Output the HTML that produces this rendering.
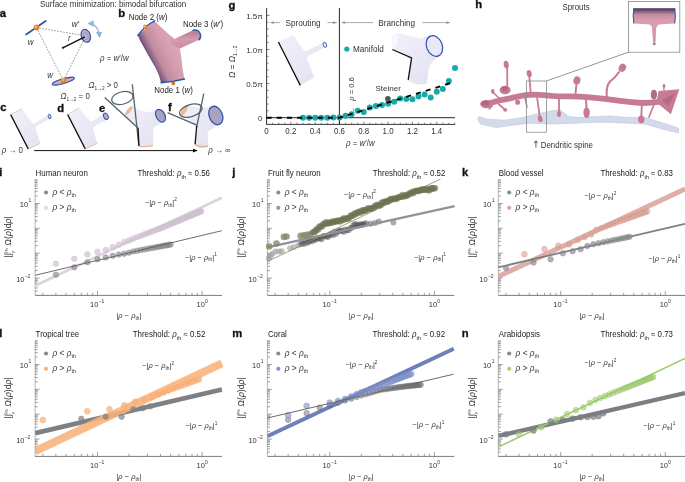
<!DOCTYPE html>
<html><head><meta charset="utf-8"><style>
html,body{margin:0;padding:0;background:#fff;}
body{width:685px;height:482px;overflow:hidden;font-family:"Liberation Sans", sans-serif;}
svg{display:block;filter:blur(0.3px);}
</style></head><body>
<svg width="685" height="482" viewBox="0 0 685 482" font-family="'Liberation Sans', sans-serif">
<rect width="100%" height="100%" fill="#fff"/>
<defs>
<linearGradient id="pinkTube" x1="143.2" y1="47.4" x2="168.9" y2="34.3" gradientUnits="userSpaceOnUse">
 <stop offset="0" stop-color="#5e4472"/><stop offset="0.1" stop-color="#8a6286"/><stop offset="0.3" stop-color="#c18a9f"/><stop offset="0.65" stop-color="#d49cad"/><stop offset="1" stop-color="#daa5b4"/>
</linearGradient>
<linearGradient id="pinkBranch" x1="0" y1="0" x2="0" y2="1">
 <stop offset="0" stop-color="#b07a98"/><stop offset="0.5" stop-color="#d49bac"/><stop offset="1" stop-color="#c98ea2"/>
</linearGradient>
<linearGradient id="insetTube" x1="0" y1="8.2" x2="0" y2="24" gradientUnits="userSpaceOnUse">
 <stop offset="0" stop-color="#40304c"/><stop offset="0.14" stop-color="#6e5070"/><stop offset="0.4" stop-color="#c48ba0"/><stop offset="0.75" stop-color="#d89dae"/><stop offset="1" stop-color="#d99fae"/>
</linearGradient>
<linearGradient id="lav" x1="0" y1="0" x2="1" y2="1">
 <stop offset="0" stop-color="#f1f0f9"/><stop offset="1" stop-color="#e2e0f1"/>
</linearGradient>
<radialGradient id="orangeBall" cx="0.4" cy="0.4" r="0.6">
 <stop offset="0" stop-color="#f6c060"/><stop offset="1" stop-color="#d96a20"/>
</radialGradient>
<marker id="ah" viewBox="0 0 10 10" refX="9" refY="5" markerWidth="5" markerHeight="5" orient="auto-start-reverse"><path d="M0,1 L10,5 L0,9 z" fill="#000"/></marker>
<marker id="ahg" viewBox="0 0 10 10" refX="9" refY="5" markerWidth="5" markerHeight="5" orient="auto-start-reverse"><path d="M0,1.5 L10,5 L0,8.5 z" fill="#8a979d"/></marker>
<marker id="ahb" viewBox="0 0 10 10" refX="8" refY="5" markerWidth="5" markerHeight="5" orient="auto-start-reverse"><path d="M0,0 L10,5 L0,10 z" fill="#8fb6e0"/></marker>
</defs>
<text transform="translate(-0.30,17.20) scale(1.1,1)" font-size="10.20" text-anchor="start" font-weight="bold" font-style="normal" fill="#111" stroke="#111" stroke-width="0.3">a</text>
<text transform="translate(39.90,6.60) scale(1.0,1)" font-size="8.32" text-anchor="start" font-weight="normal" font-style="normal" fill="#333" textLength="146.4" lengthAdjust="spacingAndGlyphs">Surface minimization: bimodal bifurcation</text>
<line x1="36.40" y1="27.60" x2="85.80" y2="35.80" stroke="#6e6e6e" stroke-width="0.7" stroke-dasharray="1.7 1.3"/>
<line x1="36.40" y1="27.60" x2="63.50" y2="80.60" stroke="#6e6e6e" stroke-width="0.7" stroke-dasharray="1.7 1.3"/>
<line x1="85.80" y1="35.80" x2="63.50" y2="80.60" stroke="#6e6e6e" stroke-width="0.7" stroke-dasharray="1.7 1.3"/>
<line x1="26.10" y1="34.50" x2="45.70" y2="20.90" stroke="#2f57a8" stroke-width="1.8" stroke-linecap="round"/>
<circle cx="36.40" cy="27.40" r="2.8" fill="url(#orangeBall)" />
<ellipse cx="85.8" cy="35.8" rx="4.5" ry="6.6" transform="rotate(-18 85.8 35.8)" fill="#c9a9c8" stroke="#2f57a8" stroke-width="1.2"/>
<ellipse cx="85.8" cy="36.0" rx="2.2" ry="3.6" transform="rotate(-18 85.8 36)" fill="#a9b9e0" stroke="#7a6a9a" stroke-width="0.4"/>
<ellipse cx="63.3" cy="81.2" rx="11.5" ry="2.4" transform="rotate(-16 63.3 81.2)" fill="#d7a8b8" stroke="#2f57a8" stroke-width="1.2"/>
<circle cx="63.50" cy="80.40" r="2.7" fill="url(#orangeBall)" />
<line x1="62.80" y1="47.80" x2="84.80" y2="36.80" stroke="#111" stroke-width="1.4" />
<circle cx="62.80" cy="47.80" r="1.0" fill="#111" />
<path d="M88.6,23.6 Q98,23.5 99.6,37" fill="none" stroke="#8fb6e0" stroke-width="1.3" marker-start="url(#ahb)" marker-end="url(#ahb)"/>
<text transform="translate(71.80,27.00) scale(0.95,1)" font-size="8.32" text-anchor="start" font-weight="normal" font-style="italic" fill="#333" >w′</text>
<text transform="translate(27.80,45.00) scale(0.95,1)" font-size="8.32" text-anchor="start" font-weight="normal" font-style="italic" fill="#333" >w</text>
<text transform="translate(68.00,41.20) scale(0.95,1)" font-size="8.32" text-anchor="start" font-weight="normal" font-style="italic" fill="#333" >r</text>
<text transform="translate(47.20,78.00) scale(0.95,1)" font-size="8.32" text-anchor="start" font-weight="normal" font-style="italic" fill="#333" >w</text>
<text transform="translate(100.00,61.00) scale(0.95,1)" font-size="8.32" text-anchor="start" font-weight="normal" font-style="normal" fill="#333" ><tspan font-style="italic">ρ</tspan> = <tspan font-style="italic">w</tspan>′/<tspan font-style="italic">w</tspan></text>
<text transform="translate(88.50,87.60) scale(0.95,1)" font-size="8.32" text-anchor="start" font-weight="normal" font-style="normal" fill="#333" ><tspan font-style="italic">Ω</tspan><tspan font-size="5" dy="2">1→2</tspan><tspan dy="-2"> &gt; 0</tspan></text>
<text transform="translate(60.40,98.80) scale(0.95,1)" font-size="8.32" text-anchor="start" font-weight="normal" font-style="normal" fill="#333" ><tspan font-style="italic">Ω</tspan><tspan font-size="5" dy="2">1→2</tspan><tspan dy="-2"> = 0</tspan></text>
<text transform="translate(118.20,17.20) scale(1.1,1)" font-size="10.20" text-anchor="start" font-weight="bold" font-style="normal" fill="#111" stroke="#111" stroke-width="0.3">b</text>
<text transform="translate(128.70,19.80) scale(0.95,1)" font-size="8.32" text-anchor="start" font-weight="normal" font-style="normal" fill="#222" >Node 2 (<tspan font-style="italic">w</tspan>)</text>
<text transform="translate(183.00,26.60) scale(0.95,1)" font-size="8.32" text-anchor="start" font-weight="normal" font-style="normal" fill="#222" >Node 3 (<tspan font-style="italic">w</tspan>′)</text>
<text transform="translate(154.30,92.60) scale(0.95,1)" font-size="8.32" text-anchor="start" font-weight="normal" font-style="normal" fill="#222" >Node 1 (<tspan font-style="italic">w</tspan>)</text>
<path d="M137.9,35.4 Q140,41 143.7,47 Q147.5,54 151,60.1 Q154,65 156.8,70.3 Q159.5,76 161.1,82.6 L184.4,79 Q182,68 181.5,58.7 Q180.5,53 180,48.5 L174.2,39.1 Q164,30 154.6,20.9 Z" fill="url(#pinkTube)"/>
<path d="M170,36 L174.2,39.1 L193.1,30.3 Q197.5,29.8 200.3,34.5 Q200.5,38.5 198.9,39.8 L180,48.5 Q176,47 172,44 Z" fill="url(#pinkBranch)"/>
<path d="M137.9,35.4 Q145,26 154.6,20.9" fill="none" stroke="#2f57a8" stroke-width="1.6" stroke-linecap="round"/>
<path d="M161.1,82.6 Q173,82 184.4,79" fill="none" stroke="#2f57a8" stroke-width="1.6" stroke-linecap="round"/>
<path d="M193.1,30.3 Q198.5,29 200.5,34.5 Q201,38.5 198.9,39.8" fill="none" stroke="#2f57a8" stroke-width="1.4" stroke-linecap="round"/>
<circle cx="145.20" cy="26.80" r="2.2" fill="url(#orangeBall)" />
<circle cx="173.30" cy="83.40" r="1.8" fill="#d0702a" />
<text transform="translate(0.20,111.30) scale(1.1,1)" font-size="10.20" text-anchor="start" font-weight="bold" font-style="normal" fill="#111" stroke="#111" stroke-width="0.3">c</text>
<path d="M10.6,114.5 L21.9,108.8 Q29,119 32.5,123.2 Q34,123.6 35.6,122.8 L48.6,114.8 L50.6,118.3 L37.2,125.4 Q35.3,126.6 35.6,128.6 Q38,137 40.2,143.4 L28.3,149 Z" fill="url(#lav)"/>
<ellipse cx="49.6" cy="116.5" rx="1.3" ry="2.0" transform="rotate(-25 49.6 116.5)" fill="#e4e3f3" stroke="#2f57a8" stroke-width="0.9"/>
<line x1="10.60" y1="114.50" x2="28.30" y2="149.00" stroke="#111" stroke-width="1.4" />
<line x1="11.10" y1="114.20" x2="21.90" y2="108.80" stroke="#f0c2a0" stroke-width="0.8" />
<line x1="28.70" y1="148.80" x2="40.20" y2="143.40" stroke="#efc09e" stroke-width="0.9" />
<text transform="translate(57.30,111.90) scale(1.1,1)" font-size="10.20" text-anchor="start" font-weight="bold" font-style="normal" fill="#111" stroke="#111" stroke-width="0.3">d</text>
<path d="M67.6,114.5 L78.9,108 Q86,117 90.2,121.2 Q92,121.8 93.6,120.6 L103.4,113.6 L108.2,119.2 L95.6,125.4 Q93.2,126.6 93.3,129 Q95,137 97.5,143.4 L85.3,149 Z" fill="url(#lav)"/>
<ellipse cx="105.9" cy="116.3" rx="2.2" ry="3.3" transform="rotate(-25 105.9 116.3)" fill="#b2afcf" stroke="#2f57a8" stroke-width="1.0"/>
<line x1="67.60" y1="114.50" x2="85.30" y2="149.00" stroke="#111" stroke-width="1.4" />
<line x1="68.10" y1="114.20" x2="78.90" y2="108.00" stroke="#f0c2a0" stroke-width="0.8" />
<line x1="85.70" y1="148.80" x2="97.50" y2="143.40" stroke="#efc09e" stroke-width="0.9" />
<text transform="translate(99.10,111.90) scale(1.1,1)" font-size="10.20" text-anchor="start" font-weight="bold" font-style="normal" fill="#111" stroke="#111" stroke-width="0.3">e</text>
<path d="M132.3,105.7 Q135.5,108 138.4,109.6 Q143,111.8 146.8,112.2 Q152,111.5 156.8,109.2 L163.9,121.6 Q158,125 153.4,127.6 L153,145.6 Q146,147 139.2,146.3 L138.4,128.7 Q131,121.5 125.4,115.7 Z" fill="url(#lav)"/>
<ellipse cx="128.8" cy="110.7" rx="1.9" ry="5.6" transform="rotate(38 128.8 110.7)" fill="#e8b68e" opacity="0.9"/>
<ellipse cx="160.5" cy="115.7" rx="4.4" ry="6.8" transform="rotate(-28 160.5 115.7)" fill="#a9a3c2" stroke="#2f57a8" stroke-width="1.2"/>
<path d="M139.2,146.3 Q146,147.3 153,145.6" stroke="#e6b896" stroke-width="1.3" fill="none"/>
<line x1="104.70" y1="97.50" x2="138.00" y2="127.90" stroke="#53646b" stroke-width="1.3" />
<line x1="132.30" y1="84.20" x2="138.90" y2="145.90" stroke="#53646b" stroke-width="1.3" />
<line x1="138.00" y1="127.90" x2="138.90" y2="145.90" stroke="#111" stroke-width="1.3" />
<ellipse cx="122.3" cy="98.0" rx="10.9" ry="6.2" transform="rotate(-14 122.3 98)" fill="none" stroke="#53646b" stroke-width="1.2"/>
<text transform="translate(168.10,111.30) scale(1.1,1)" font-size="10.20" text-anchor="start" font-weight="bold" font-style="normal" fill="#111" stroke="#111" stroke-width="0.3">f</text>
<path d="M187.4,105 Q193,106.8 199.7,107.6 Q206,107.8 211.5,106 L222.2,122.4 Q214,127.5 207.6,131.8 L208.1,145.6 Q201,147.5 195.1,144.5 L196.6,125.7 Q188,120 181,116.2 Z" fill="url(#lav)"/>
<ellipse cx="184.2" cy="110.4" rx="2.2" ry="6.4" transform="rotate(32 184.2 110.4)" fill="#e8b68e" opacity="0.9"/>
<ellipse cx="215.8" cy="115.5" rx="6.6" ry="9.6" transform="rotate(-22 215.8 115.5)" fill="#a9a3c2" stroke="#2f57a8" stroke-width="1.3"/>
<path d="M195.1,144.4 Q201,148.3 208.1,145.8" stroke="#e6b896" stroke-width="1.8" fill="none"/>
<line x1="167.60" y1="112.60" x2="196.80" y2="125.20" stroke="#53646b" stroke-width="1.3" />
<line x1="203.80" y1="93.70" x2="196.60" y2="127.00" stroke="#53646b" stroke-width="1.3" />
<line x1="196.70" y1="126.00" x2="195.10" y2="144.20" stroke="#111" stroke-width="1.3" />
<ellipse cx="190.8" cy="110.6" rx="11.6" ry="6.0" transform="rotate(-17 190.8 110.6)" fill="none" stroke="#53646b" stroke-width="1.2"/>
<line x1="34.20" y1="150.60" x2="197.00" y2="150.60" stroke="#111" stroke-width="1.0" marker-end="url(#ah)"/>
<text transform="translate(1.80,153.40) scale(0.95,1)" font-size="8.32" text-anchor="start" font-weight="normal" font-style="normal" fill="#333" ><tspan font-style="italic">ρ</tspan> → 0</text>
<text transform="translate(208.20,153.40) scale(0.95,1)" font-size="8.32" text-anchor="start" font-weight="normal" font-style="normal" fill="#333" ><tspan font-style="italic">ρ</tspan> → ∞</text>
<text transform="translate(228.50,9.00) scale(1.1,1)" font-size="10.20" text-anchor="start" font-weight="bold" font-style="normal" fill="#111" stroke="#111" stroke-width="0.3">g</text>
<line x1="266.60" y1="7.90" x2="266.60" y2="124.40" stroke="#222" stroke-width="0.9" />
<line x1="266.60" y1="117.70" x2="269.60" y2="117.70" stroke="#333" stroke-width="0.6" />
<line x1="266.60" y1="110.88" x2="268.60" y2="110.88" stroke="#333" stroke-width="0.6" />
<line x1="266.60" y1="104.06" x2="268.60" y2="104.06" stroke="#333" stroke-width="0.6" />
<line x1="266.60" y1="97.24" x2="268.60" y2="97.24" stroke="#333" stroke-width="0.6" />
<line x1="266.60" y1="90.42" x2="268.60" y2="90.42" stroke="#333" stroke-width="0.6" />
<line x1="266.60" y1="83.60" x2="269.60" y2="83.60" stroke="#333" stroke-width="0.6" />
<line x1="266.60" y1="76.78" x2="268.60" y2="76.78" stroke="#333" stroke-width="0.6" />
<line x1="266.60" y1="69.96" x2="268.60" y2="69.96" stroke="#333" stroke-width="0.6" />
<line x1="266.60" y1="63.14" x2="268.60" y2="63.14" stroke="#333" stroke-width="0.6" />
<line x1="266.60" y1="56.32" x2="268.60" y2="56.32" stroke="#333" stroke-width="0.6" />
<line x1="266.60" y1="49.50" x2="269.60" y2="49.50" stroke="#333" stroke-width="0.6" />
<line x1="266.60" y1="42.68" x2="268.60" y2="42.68" stroke="#333" stroke-width="0.6" />
<line x1="266.60" y1="35.86" x2="268.60" y2="35.86" stroke="#333" stroke-width="0.6" />
<line x1="266.60" y1="29.04" x2="268.60" y2="29.04" stroke="#333" stroke-width="0.6" />
<line x1="266.60" y1="22.22" x2="268.60" y2="22.22" stroke="#333" stroke-width="0.6" />
<line x1="266.60" y1="15.40" x2="269.60" y2="15.40" stroke="#333" stroke-width="0.6" />
<line x1="266.60" y1="124.40" x2="455.00" y2="124.40" stroke="#222" stroke-width="0.9" />
<line x1="266.50" y1="124.40" x2="266.50" y2="121.80" stroke="#333" stroke-width="0.6" />
<line x1="272.58" y1="124.40" x2="272.58" y2="122.70" stroke="#333" stroke-width="0.6" />
<line x1="278.66" y1="124.40" x2="278.66" y2="122.70" stroke="#333" stroke-width="0.6" />
<line x1="284.74" y1="124.40" x2="284.74" y2="122.70" stroke="#333" stroke-width="0.6" />
<line x1="290.82" y1="124.40" x2="290.82" y2="121.80" stroke="#333" stroke-width="0.6" />
<line x1="296.90" y1="124.40" x2="296.90" y2="122.70" stroke="#333" stroke-width="0.6" />
<line x1="302.98" y1="124.40" x2="302.98" y2="122.70" stroke="#333" stroke-width="0.6" />
<line x1="309.06" y1="124.40" x2="309.06" y2="122.70" stroke="#333" stroke-width="0.6" />
<line x1="315.14" y1="124.40" x2="315.14" y2="121.80" stroke="#333" stroke-width="0.6" />
<line x1="321.22" y1="124.40" x2="321.22" y2="122.70" stroke="#333" stroke-width="0.6" />
<line x1="327.30" y1="124.40" x2="327.30" y2="122.70" stroke="#333" stroke-width="0.6" />
<line x1="333.38" y1="124.40" x2="333.38" y2="122.70" stroke="#333" stroke-width="0.6" />
<line x1="339.46" y1="124.40" x2="339.46" y2="121.80" stroke="#333" stroke-width="0.6" />
<line x1="345.54" y1="124.40" x2="345.54" y2="122.70" stroke="#333" stroke-width="0.6" />
<line x1="351.62" y1="124.40" x2="351.62" y2="122.70" stroke="#333" stroke-width="0.6" />
<line x1="357.70" y1="124.40" x2="357.70" y2="122.70" stroke="#333" stroke-width="0.6" />
<line x1="363.78" y1="124.40" x2="363.78" y2="121.80" stroke="#333" stroke-width="0.6" />
<line x1="369.86" y1="124.40" x2="369.86" y2="122.70" stroke="#333" stroke-width="0.6" />
<line x1="375.94" y1="124.40" x2="375.94" y2="122.70" stroke="#333" stroke-width="0.6" />
<line x1="382.02" y1="124.40" x2="382.02" y2="122.70" stroke="#333" stroke-width="0.6" />
<line x1="388.10" y1="124.40" x2="388.10" y2="121.80" stroke="#333" stroke-width="0.6" />
<line x1="394.18" y1="124.40" x2="394.18" y2="122.70" stroke="#333" stroke-width="0.6" />
<line x1="400.26" y1="124.40" x2="400.26" y2="122.70" stroke="#333" stroke-width="0.6" />
<line x1="406.34" y1="124.40" x2="406.34" y2="122.70" stroke="#333" stroke-width="0.6" />
<line x1="412.42" y1="124.40" x2="412.42" y2="121.80" stroke="#333" stroke-width="0.6" />
<line x1="418.50" y1="124.40" x2="418.50" y2="122.70" stroke="#333" stroke-width="0.6" />
<line x1="424.58" y1="124.40" x2="424.58" y2="122.70" stroke="#333" stroke-width="0.6" />
<line x1="430.66" y1="124.40" x2="430.66" y2="122.70" stroke="#333" stroke-width="0.6" />
<line x1="436.74" y1="124.40" x2="436.74" y2="121.80" stroke="#333" stroke-width="0.6" />
<line x1="442.82" y1="124.40" x2="442.82" y2="122.70" stroke="#333" stroke-width="0.6" />
<line x1="448.90" y1="124.40" x2="448.90" y2="122.70" stroke="#333" stroke-width="0.6" />
<line x1="454.98" y1="124.40" x2="454.98" y2="122.70" stroke="#333" stroke-width="0.6" />
<line x1="266.60" y1="117.70" x2="455.00" y2="117.70" stroke="#111" stroke-width="0.9" />
<line x1="339.40" y1="7.90" x2="339.40" y2="124.40" stroke="#111" stroke-width="0.9" />
<text transform="translate(262.80,19.00) scale(1.0,1)" font-size="8.00" text-anchor="end" font-weight="normal" font-style="normal" fill="#333" >1.5π</text>
<text transform="translate(262.80,53.10) scale(1.0,1)" font-size="8.00" text-anchor="end" font-weight="normal" font-style="normal" fill="#333" >1.0π</text>
<text transform="translate(262.80,87.20) scale(1.0,1)" font-size="8.00" text-anchor="end" font-weight="normal" font-style="normal" fill="#333" >0.5π</text>
<text transform="translate(262.40,120.90) scale(1.0,1)" font-size="8.00" text-anchor="end" font-weight="normal" font-style="normal" fill="#333" >0</text>
<text transform="translate(266.50,134.10) scale(0.95,1)" font-size="8.32" text-anchor="middle" font-weight="normal" font-style="normal" fill="#333" >0</text>
<text transform="translate(290.82,134.10) scale(0.95,1)" font-size="8.32" text-anchor="middle" font-weight="normal" font-style="normal" fill="#333" >0.2</text>
<text transform="translate(315.14,134.10) scale(0.95,1)" font-size="8.32" text-anchor="middle" font-weight="normal" font-style="normal" fill="#333" >0.4</text>
<text transform="translate(339.46,134.10) scale(0.95,1)" font-size="8.32" text-anchor="middle" font-weight="normal" font-style="normal" fill="#333" >0.6</text>
<text transform="translate(363.78,134.10) scale(0.95,1)" font-size="8.32" text-anchor="middle" font-weight="normal" font-style="normal" fill="#333" >0.8</text>
<text transform="translate(388.10,134.10) scale(0.95,1)" font-size="8.32" text-anchor="middle" font-weight="normal" font-style="normal" fill="#333" >1.0</text>
<text transform="translate(412.42,134.10) scale(0.95,1)" font-size="8.32" text-anchor="middle" font-weight="normal" font-style="normal" fill="#333" >1.2</text>
<text transform="translate(436.74,134.10) scale(0.95,1)" font-size="8.32" text-anchor="middle" font-weight="normal" font-style="normal" fill="#333" >1.4</text>
<text transform="translate(360.30,146.00) scale(0.95,1)" font-size="8.32" text-anchor="middle" font-weight="normal" font-style="normal" fill="#333" ><tspan font-style="italic">ρ</tspan> = <tspan font-style="italic">w</tspan>′/<tspan font-style="italic">w</tspan></text>
<text transform="translate(235.2,61.7) rotate(-90)" font-size="8.3" text-anchor="middle" fill="#333"><tspan font-style="italic">Ω</tspan> = <tspan font-style="italic">Ω</tspan><tspan font-size="5" dy="2">1→2</tspan></text>
<text transform="translate(303.00,25.60) scale(1.0,1)" font-size="8.16" text-anchor="middle" font-weight="normal" font-style="normal" fill="#333" >Sprouting</text>
<text transform="translate(396.70,25.60) scale(1.0,1)" font-size="8.16" text-anchor="middle" font-weight="normal" font-style="normal" fill="#333" >Branching</text>
<line x1="280.20" y1="22.60" x2="270.60" y2="22.60" stroke="#8a979d" stroke-width="0.8" marker-end="url(#ahg)"/>
<line x1="327.50" y1="22.60" x2="336.60" y2="22.60" stroke="#8a979d" stroke-width="0.8" marker-end="url(#ahg)"/>
<line x1="373.00" y1="22.60" x2="341.80" y2="22.60" stroke="#8a979d" stroke-width="0.8" marker-end="url(#ahg)"/>
<line x1="422.30" y1="22.60" x2="450.00" y2="22.60" stroke="#8a979d" stroke-width="0.8" marker-end="url(#ahg)"/>
<path d="M278.4,42 L293.3,35 Q300,45 304,51 Q305.5,51.6 307,50.8 L323.6,42.6 L326.0,46.8 L309,55.6 Q306.8,56.8 307,59 Q310.5,68 314.3,77.3 L300.3,85.4 Z" fill="url(#lav)"/>
<ellipse cx="324.9" cy="44.8" rx="1.6" ry="2.7" transform="rotate(-20 324.9 44.8)" fill="#f4f4fb" stroke="#2f57a8" stroke-width="0.9"/>
<line x1="278.40" y1="42.00" x2="300.30" y2="85.40" stroke="#111" stroke-width="1.3" />
<path d="M392.5,37 Q395,32.8 398,33.2 Q410,36 420,38.5 Q426,36 431,35.5 Q441,36 443.5,47 Q444,55 438.5,57 Q430,61 428.5,70 L427,83.5 Q417,86.5 407.5,80.5 L410.5,59 Q400,52.5 392.5,49.5 Z" fill="url(#lav)"/>
<ellipse cx="395" cy="41.3" rx="2.6" ry="8" transform="rotate(12 395 41.3)" fill="#f7f7fc"/>
<ellipse cx="434.4" cy="46.0" rx="7.8" ry="10.6" transform="rotate(-22 434.4 46)" fill="#e9e8f6" stroke="#2f57a8" stroke-width="1.2"/>
<path d="M392.3,49.5 L411.6,58 L408.2,79.8" fill="none" stroke="#111" stroke-width="1.3"/>
<circle cx="346.80" cy="49.00" r="2.6" fill="#17aba7" />
<text transform="translate(353.00,52.00) scale(1.0,1)" font-size="8.16" text-anchor="start" font-weight="normal" font-style="normal" fill="#333" >Manifold</text>
<text transform="translate(375.50,90.70) scale(1.0,1)" font-size="8.00" text-anchor="start" font-weight="normal" font-style="normal" fill="#333" >Steiner</text>
<text transform="translate(354.3,100.8) rotate(-90)" font-size="7.6" fill="#333"><tspan font-style="italic">ρ</tspan> = 0.6</text>
<path d="M353.6,111.5 L353.3,108.3" stroke="#666" stroke-width="0.6"/>
<circle cx="302.98" cy="117.70" r="3.0" fill="#17aba7" />
<circle cx="309.06" cy="117.70" r="3.0" fill="#17aba7" />
<circle cx="315.14" cy="117.70" r="3.0" fill="#17aba7" />
<circle cx="321.22" cy="117.70" r="3.0" fill="#17aba7" />
<circle cx="327.30" cy="117.70" r="3.0" fill="#17aba7" />
<circle cx="333.38" cy="117.60" r="3.0" fill="#17aba7" />
<circle cx="339.46" cy="117.40" r="3.0" fill="#17aba7" />
<circle cx="345.54" cy="115.80" r="3.0" fill="#17aba7" />
<circle cx="351.62" cy="114.20" r="3.0" fill="#17aba7" />
<circle cx="357.70" cy="110.80" r="3.0" fill="#17aba7" />
<circle cx="363.78" cy="111.90" r="3.0" fill="#17aba7" />
<circle cx="369.86" cy="107.40" r="3.0" fill="#17aba7" />
<circle cx="375.94" cy="105.90" r="3.0" fill="#17aba7" />
<circle cx="382.02" cy="105.00" r="3.0" fill="#17aba7" />
<circle cx="388.10" cy="103.70" r="3.0" fill="#17aba7" />
<circle cx="394.18" cy="101.80" r="3.0" fill="#17aba7" />
<circle cx="400.26" cy="98.50" r="3.0" fill="#17aba7" />
<circle cx="406.34" cy="98.90" r="3.0" fill="#17aba7" />
<circle cx="412.42" cy="99.30" r="3.0" fill="#17aba7" />
<circle cx="418.50" cy="96.60" r="3.0" fill="#17aba7" />
<circle cx="424.58" cy="94.50" r="3.0" fill="#17aba7" />
<circle cx="430.66" cy="97.40" r="3.0" fill="#17aba7" />
<circle cx="436.74" cy="91.70" r="3.0" fill="#17aba7" />
<circle cx="442.82" cy="89.00" r="3.0" fill="#17aba7" />
<circle cx="448.90" cy="80.90" r="3.0" fill="#17aba7" />
<circle cx="454.98" cy="68.00" r="3.0" fill="#17aba7" />
<circle cx="387.90" cy="98.90" r="2.8" fill="#555" />
<path d="M266.6,117.7 L339.4,117.7 L451.5,82.8" fill="none" stroke="#000" stroke-width="1.9" stroke-dasharray="5 5.2"/>
<text transform="translate(475.30,8.30) scale(1.1,1)" font-size="10.20" text-anchor="start" font-weight="bold" font-style="normal" fill="#111" stroke="#111" stroke-width="0.3">h</text>
<text transform="translate(576.00,9.60) scale(0.95,1)" font-size="8.32" text-anchor="middle" font-weight="normal" font-style="normal" fill="#333" >Sprouts</text>
<text transform="translate(540.70,147.50) scale(0.95,1)" font-size="8.32" text-anchor="start" font-weight="normal" font-style="normal" fill="#333" >Dendritic spine</text>
<path d="M535.9,147.6 L535.9,141.0 M534.1,143.2 L535.9,140.8 L537.7,143.2" stroke="#333" stroke-width="0.8" fill="none"/>
<path d="M478.5,116.5 L487.6,119.3 L505.3,120.2 L522.9,117.6 L540.5,113.2 L552.8,110.6 L559.9,109.8 L568.7,116.6 L580,117.6 L592.6,116.8 L610.3,115.9 L627.9,117.6 L645.5,117.6 L659.6,122 L673.7,126.4 L678.5,128.2 L678.5,132.8 L663.1,129.3 L645.5,124 L627.9,123.2 L610.3,122.3 L592.6,122.3 L575,123.2 L549.3,124 L531.7,123.2 L514,124.9 L496.4,127.6 L480.6,124 L477.8,120 Z" fill="#d3dbeb" stroke="#bfcae0" stroke-width="0.7" stroke-linejoin="round"/>
<path d="M507.3,88 L507.2,68" fill="none" stroke="#c77a93" stroke-width="1.8" stroke-linecap="round"/>
<ellipse cx="506.2" cy="64.6" rx="2.5" ry="3.8" transform="rotate(-10 506.2 64.6)" fill="#c77a93"/>
<path d="M530.6,92 L529.3,76" fill="none" stroke="#c77a93" stroke-width="1.8" stroke-linecap="round"/>
<ellipse cx="529.2" cy="73.6" rx="2.5" ry="3.6" transform="rotate(-10 529.2 73.6)" fill="#c77a93"/>
<path d="M537.2,98 L539.8,117" fill="none" stroke="#c77a93" stroke-width="1.8" stroke-linecap="round"/>
<ellipse cx="540.2" cy="118.8" rx="2.4" ry="3.4" transform="rotate(-10 540.2 118.8)" fill="#c77a93"/>
<path d="M559.0,98 L559.0,113" fill="none" stroke="#c77a93" stroke-width="1.8" stroke-linecap="round"/>
<ellipse cx="559.0" cy="114.0" rx="2.0" ry="2.9" transform="rotate(0 559.0 114.0)" fill="#c77a93"/>
<path d="M575.5,94 L576.5,83" fill="none" stroke="#c77a93" stroke-width="1.9" stroke-linecap="round"/>
<ellipse cx="577.0" cy="80.4" rx="3.4" ry="4.1" transform="rotate(15 577.0 80.4)" fill="#c77a93"/>
<path d="M586.0,100 L586.6,109" fill="none" stroke="#c77a93" stroke-width="2.0" stroke-linecap="round"/>
<ellipse cx="586.6" cy="112.6" rx="3.2" ry="5.4" transform="rotate(0 586.6 112.6)" fill="#c77a93"/>
<path d="M606.7,96 Q606,86 610,81.5 Q615,78 619,72" fill="none" stroke="#c77a93" stroke-width="2.1" stroke-linecap="round"/>
<ellipse cx="622.4" cy="67.8" rx="3.6" ry="4.2" transform="rotate(25 622.4 67.8)" fill="#c77a93"/>
<path d="M642.0,102 L641.3,117" fill="none" stroke="#c77a93" stroke-width="1.9" stroke-linecap="round"/>
<ellipse cx="641.2" cy="119.4" rx="3.2" ry="3.8" transform="rotate(0 641.2 119.4)" fill="#c77a93"/>
<path d="M654.3,104 Q651,112 649,117" fill="none" stroke="#c77a93" stroke-width="1.7" stroke-linecap="round"/>
<path d="M493.6,93 L499.0,98.0" fill="none" stroke="#c77a93" stroke-width="1.7" stroke-linecap="round"/>
<ellipse cx="492.8" cy="91.4" rx="1.7" ry="2.3" transform="rotate(0 492.8 91.4)" fill="#c77a93"/>
<path d="M498.4,104 L505.1,109.6" fill="none" stroke="#c77a93" stroke-width="1.7" stroke-linecap="round"/>
<ellipse cx="505.2" cy="109.8" rx="2.0" ry="1.9" transform="rotate(0 505.2 109.8)" fill="#c77a93"/>
<path d="M492,106 L489.2,109" fill="none" stroke="#c77a93" stroke-width="1.6" stroke-linecap="round"/>
<path d="M525,98 L527,107" fill="none" stroke="#c77a93" stroke-width="1.5" stroke-linecap="round"/>
<path d="M664.5,94 L663.6,86.5" fill="none" stroke="#c77a93" stroke-width="1.3" stroke-linecap="round"/>
<ellipse cx="664.0" cy="86.0" rx="1.4" ry="1.9" transform="rotate(0 664.0 86.0)" fill="#c77a93"/>
<path d="M486,104.5 Q492,102.5 498.4,100.7 Q504,99.6 508.7,98.7 Q514,97.2 518.9,96.3 Q524,95.4 529.1,94.9 Q534,94.5 539.3,94.8 Q546,95.2 552,95.9 Q560,96.6 570,96.4 Q580,96.6 590,97.4 Q605,98.6 620,100.8 Q632,102.4 642,103 Q652,102.8 660,101.6" fill="none" stroke="#c77a93" stroke-width="5.8" stroke-linecap="round" stroke-linejoin="round"/>
<path d="M656.5,102.5 L658.6,91 L679.3,89.2 L670.9,114.3 Z" fill="#c77a93"/>
<path d="M662,100 L676,93 L668,106 Z" fill="#9e5674" opacity="0.45"/>
<ellipse cx="653.9" cy="94.6" rx="3.1" ry="4.8" fill="#9e5674" opacity="0.85"/>
<ellipse cx="486.5" cy="104.1" rx="6.4" ry="4.1" fill="#c77a93"/>
<ellipse cx="485.5" cy="103" rx="4" ry="2.6" fill="#9e5674" opacity="0.55"/>
<ellipse cx="505.1" cy="90.0" rx="5.5" ry="4.3" fill="#c77a93"/>
<ellipse cx="504.5" cy="88.6" rx="3" ry="2.6" fill="#9e5674" opacity="0.5"/>
<ellipse cx="517.6" cy="102.2" rx="2.4" ry="2.6" fill="#c77a93"/>
<ellipse cx="576.8" cy="80.8" rx="3.3" ry="3.4" fill="#c77a93"/>
<rect x="526.6" y="81.0" width="19.8" height="51.2" fill="none" stroke="#8a8a8a" stroke-width="0.8"/>
<line x1="546.40" y1="81.00" x2="628.40" y2="52.20" stroke="#666" stroke-width="0.7" />
<rect x="628.4" y="1.4" width="51.4" height="50.8" fill="#fff" stroke="#8a8a8a" stroke-width="0.8"/>
<path d="M633.6,8.2 L675,8.2 L675,23.4 Q664,23.6 659,24.4 Q656.6,25.4 656.2,28 L655.3,44.3 L653.2,44.3 L652.2,28 Q651.8,25.4 649.4,24.4 Q644,23.6 633.6,23.4 Z" fill="url(#insetTube)"/>
<path d="M652.2,28 L655.6,28 L655.1,44 L653.4,44 Z" fill="#d596a8"/>
<path d="M633.9,8.2 Q632.6,15.8 633.9,23.4" stroke="#2f57a8" stroke-width="1.1" fill="none"/>
<path d="M674.7,8.2 Q676,15.8 674.7,23.4" stroke="#2f57a8" stroke-width="1.1" fill="none"/>
<path d="M652.9,43.8 Q654.2,45.6 655.6,43.8" stroke="#2f57a8" stroke-width="1.0" fill="none"/>
<clipPath id="cl00"><rect x="35.1" y="175" width="187.9" height="120.4"/></clipPath>
<clipPath id="cl01"><rect x="35.1" y="336" width="187.9" height="120.4"/></clipPath>
<clipPath id="cl10"><rect x="267.4" y="175" width="187.9" height="120.4"/></clipPath>
<clipPath id="cl11"><rect x="267.4" y="336" width="187.9" height="120.4"/></clipPath>
<clipPath id="cl20"><rect x="498.3" y="175" width="187.9" height="120.4"/></clipPath>
<clipPath id="cl21"><rect x="498.3" y="336" width="187.9" height="120.4"/></clipPath>
<text transform="translate(-0.70,175.80) scale(1.1,1)" font-size="10.20" text-anchor="start" font-weight="bold" font-style="normal" fill="#111" stroke="#111" stroke-width="0.3">i</text>
<text transform="translate(35.60,176.20) scale(0.95,1)" font-size="8.32" text-anchor="start" font-weight="normal" font-style="normal" fill="#222" >Human neuron</text>
<text transform="translate(210.00,176.20) scale(0.95,1)" font-size="8.32" text-anchor="end" font-weight="normal" font-style="normal" fill="#222" >Threshold: <tspan font-style="italic">ρ</tspan><tspan font-size="5.6" dy="2.3">th</tspan><tspan dy="-2.3"> ≈ 0.56</tspan></text>
<line x1="35.10" y1="179.30" x2="35.10" y2="295.40" stroke="#b8b8b8" stroke-width="1" />
<line x1="35.10" y1="291.04" x2="37.70" y2="291.04" stroke="#777" stroke-width="0.7" />
<line x1="35.10" y1="287.94" x2="37.70" y2="287.94" stroke="#777" stroke-width="0.7" />
<line x1="35.10" y1="285.53" x2="37.70" y2="285.53" stroke="#777" stroke-width="0.7" />
<line x1="35.10" y1="283.56" x2="37.70" y2="283.56" stroke="#777" stroke-width="0.7" />
<line x1="35.10" y1="281.90" x2="37.70" y2="281.90" stroke="#777" stroke-width="0.7" />
<line x1="35.10" y1="280.46" x2="37.70" y2="280.46" stroke="#777" stroke-width="0.7" />
<line x1="35.10" y1="279.19" x2="37.70" y2="279.19" stroke="#777" stroke-width="0.7" />
<line x1="35.10" y1="278.05" x2="39.60" y2="278.05" stroke="#777" stroke-width="0.7" />
<line x1="35.10" y1="270.57" x2="37.70" y2="270.57" stroke="#777" stroke-width="0.7" />
<line x1="35.10" y1="266.19" x2="37.70" y2="266.19" stroke="#777" stroke-width="0.7" />
<line x1="35.10" y1="263.09" x2="37.70" y2="263.09" stroke="#777" stroke-width="0.7" />
<line x1="35.10" y1="260.68" x2="37.70" y2="260.68" stroke="#777" stroke-width="0.7" />
<line x1="35.10" y1="258.71" x2="37.70" y2="258.71" stroke="#777" stroke-width="0.7" />
<line x1="35.10" y1="257.05" x2="37.70" y2="257.05" stroke="#777" stroke-width="0.7" />
<line x1="35.10" y1="255.61" x2="37.70" y2="255.61" stroke="#777" stroke-width="0.7" />
<line x1="35.10" y1="254.34" x2="37.70" y2="254.34" stroke="#777" stroke-width="0.7" />
<line x1="35.10" y1="253.20" x2="39.60" y2="253.20" stroke="#777" stroke-width="0.7" />
<line x1="35.10" y1="245.72" x2="37.70" y2="245.72" stroke="#777" stroke-width="0.7" />
<line x1="35.10" y1="241.34" x2="37.70" y2="241.34" stroke="#777" stroke-width="0.7" />
<line x1="35.10" y1="238.24" x2="37.70" y2="238.24" stroke="#777" stroke-width="0.7" />
<line x1="35.10" y1="235.83" x2="37.70" y2="235.83" stroke="#777" stroke-width="0.7" />
<line x1="35.10" y1="233.86" x2="37.70" y2="233.86" stroke="#777" stroke-width="0.7" />
<line x1="35.10" y1="232.20" x2="37.70" y2="232.20" stroke="#777" stroke-width="0.7" />
<line x1="35.10" y1="230.76" x2="37.70" y2="230.76" stroke="#777" stroke-width="0.7" />
<line x1="35.10" y1="229.49" x2="37.70" y2="229.49" stroke="#777" stroke-width="0.7" />
<line x1="35.10" y1="228.35" x2="39.60" y2="228.35" stroke="#777" stroke-width="0.7" />
<line x1="35.10" y1="220.87" x2="37.70" y2="220.87" stroke="#777" stroke-width="0.7" />
<line x1="35.10" y1="216.49" x2="37.70" y2="216.49" stroke="#777" stroke-width="0.7" />
<line x1="35.10" y1="213.39" x2="37.70" y2="213.39" stroke="#777" stroke-width="0.7" />
<line x1="35.10" y1="210.98" x2="37.70" y2="210.98" stroke="#777" stroke-width="0.7" />
<line x1="35.10" y1="209.01" x2="37.70" y2="209.01" stroke="#777" stroke-width="0.7" />
<line x1="35.10" y1="207.35" x2="37.70" y2="207.35" stroke="#777" stroke-width="0.7" />
<line x1="35.10" y1="205.91" x2="37.70" y2="205.91" stroke="#777" stroke-width="0.7" />
<line x1="35.10" y1="204.64" x2="37.70" y2="204.64" stroke="#777" stroke-width="0.7" />
<line x1="35.10" y1="203.50" x2="39.60" y2="203.50" stroke="#777" stroke-width="0.7" />
<line x1="35.10" y1="196.02" x2="37.70" y2="196.02" stroke="#777" stroke-width="0.7" />
<line x1="35.10" y1="191.64" x2="37.70" y2="191.64" stroke="#777" stroke-width="0.7" />
<line x1="35.10" y1="188.54" x2="37.70" y2="188.54" stroke="#777" stroke-width="0.7" />
<line x1="35.10" y1="186.13" x2="37.70" y2="186.13" stroke="#777" stroke-width="0.7" />
<line x1="35.10" y1="184.16" x2="37.70" y2="184.16" stroke="#777" stroke-width="0.7" />
<line x1="35.10" y1="182.50" x2="37.70" y2="182.50" stroke="#777" stroke-width="0.7" />
<line x1="35.10" y1="181.06" x2="37.70" y2="181.06" stroke="#777" stroke-width="0.7" />
<line x1="35.10" y1="179.79" x2="37.70" y2="179.79" stroke="#777" stroke-width="0.7" />
<line x1="35.10" y1="295.40" x2="222.00" y2="295.40" stroke="#7a7a7a" stroke-width="1" />
<line x1="42.81" y1="295.40" x2="42.81" y2="292.80" stroke="#777" stroke-width="0.7" />
<line x1="55.88" y1="295.40" x2="55.88" y2="292.80" stroke="#777" stroke-width="0.7" />
<line x1="66.02" y1="295.40" x2="66.02" y2="292.80" stroke="#777" stroke-width="0.7" />
<line x1="74.30" y1="295.40" x2="74.30" y2="292.80" stroke="#777" stroke-width="0.7" />
<line x1="81.30" y1="295.40" x2="81.30" y2="292.80" stroke="#777" stroke-width="0.7" />
<line x1="87.37" y1="295.40" x2="87.37" y2="292.80" stroke="#777" stroke-width="0.7" />
<line x1="92.72" y1="295.40" x2="92.72" y2="292.80" stroke="#777" stroke-width="0.7" />
<line x1="97.50" y1="295.40" x2="97.50" y2="290.90" stroke="#777" stroke-width="0.7" />
<line x1="128.99" y1="295.40" x2="128.99" y2="292.80" stroke="#777" stroke-width="0.7" />
<line x1="147.41" y1="295.40" x2="147.41" y2="292.80" stroke="#777" stroke-width="0.7" />
<line x1="160.48" y1="295.40" x2="160.48" y2="292.80" stroke="#777" stroke-width="0.7" />
<line x1="170.62" y1="295.40" x2="170.62" y2="292.80" stroke="#777" stroke-width="0.7" />
<line x1="178.90" y1="295.40" x2="178.90" y2="292.80" stroke="#777" stroke-width="0.7" />
<line x1="185.90" y1="295.40" x2="185.90" y2="292.80" stroke="#777" stroke-width="0.7" />
<line x1="191.97" y1="295.40" x2="191.97" y2="292.80" stroke="#777" stroke-width="0.7" />
<line x1="197.32" y1="295.40" x2="197.32" y2="292.80" stroke="#777" stroke-width="0.7" />
<line x1="202.10" y1="295.40" x2="202.10" y2="290.90" stroke="#777" stroke-width="0.7" />
<text transform="translate(28.10,206.50) scale(0.95,1)" font-size="7.90" text-anchor="end" font-weight="normal" font-style="normal" fill="#333" >10</text>
<text transform="translate(28.50,202.30) scale(0.95,1)" font-size="5.20" text-anchor="start" font-weight="normal" font-style="normal" fill="#333" >1</text>
<text transform="translate(24.50,282.05) scale(0.95,1)" font-size="7.90" text-anchor="end" font-weight="normal" font-style="normal" fill="#333" >10</text>
<text transform="translate(24.70,277.65) scale(0.95,1)" font-size="5.20" text-anchor="start" font-weight="normal" font-style="normal" fill="#333" >−2</text>
<text transform="translate(90.10,307.40) scale(0.95,1)" font-size="7.90" text-anchor="start" font-weight="normal" font-style="normal" fill="#333" >10</text>
<text transform="translate(98.70,303.40) scale(0.95,1)" font-size="5.20" text-anchor="start" font-weight="normal" font-style="normal" fill="#333" >−1</text>
<text transform="translate(196.50,307.40) scale(0.95,1)" font-size="7.90" text-anchor="start" font-weight="normal" font-style="normal" fill="#333" >10</text>
<text transform="translate(204.90,303.40) scale(0.95,1)" font-size="5.20" text-anchor="start" font-weight="normal" font-style="normal" fill="#333" >0</text>
<text transform="translate(116.40,317.90) scale(0.95,1)" font-size="7.90" text-anchor="start" font-weight="normal" font-style="normal" fill="#333" >|<tspan font-style="italic">ρ</tspan> − <tspan font-style="italic">ρ</tspan><tspan font-size="5" dy="1.6">th</tspan><tspan dy="-1.6">|</tspan></text>
<text transform="translate(11.3,237.0) rotate(-90)" font-size="8.6" text-anchor="middle" fill="#333">|∫<tspan font-size="4.2" dy="2.2" font-style="italic">ρ</tspan><tspan font-size="4.2" dx="-2.2" dy="-6.6" font-style="italic">ρ</tspan><tspan font-size="3.2" dy="0.8">th</tspan><tspan dy="3.6"> Ω(</tspan><tspan font-style="italic">ρ</tspan>)d<tspan font-style="italic">ρ</tspan>|</text>
<g clip-path="url(#cl00)">
<line x1="35.10" y1="285.70" x2="221.80" y2="197.80" stroke="#ddd2dd" stroke-width="2.6" stroke-opacity="1"/>
</g>
<circle cx="55.88" cy="263.71" r="2.85" fill="#cec2cf" fill-opacity="0.7" stroke="#cec2cf" stroke-opacity="0.85" stroke-width="0.5"/>
<circle cx="74.30" cy="258.83" r="2.85" fill="#cec2cf" fill-opacity="0.7" stroke="#cec2cf" stroke-opacity="0.85" stroke-width="0.5"/>
<circle cx="87.37" cy="254.41" r="2.85" fill="#cec2cf" fill-opacity="0.7" stroke="#cec2cf" stroke-opacity="0.85" stroke-width="0.5"/>
<circle cx="97.50" cy="251.85" r="2.85" fill="#cec2cf" fill-opacity="0.7" stroke="#cec2cf" stroke-opacity="0.85" stroke-width="0.5"/>
<circle cx="105.79" cy="249.77" r="2.85" fill="#cec2cf" fill-opacity="0.7" stroke="#cec2cf" stroke-opacity="0.85" stroke-width="0.5"/>
<circle cx="112.79" cy="247.16" r="2.85" fill="#cec2cf" fill-opacity="0.7" stroke="#cec2cf" stroke-opacity="0.85" stroke-width="0.5"/>
<circle cx="118.86" cy="244.72" r="2.85" fill="#cec2cf" fill-opacity="0.7" stroke="#cec2cf" stroke-opacity="0.85" stroke-width="0.5"/>
<circle cx="124.21" cy="242.02" r="2.85" fill="#cec2cf" fill-opacity="0.7" stroke="#cec2cf" stroke-opacity="0.85" stroke-width="0.5"/>
<circle cx="128.99" cy="240.44" r="2.85" fill="#cec2cf" fill-opacity="0.7" stroke="#cec2cf" stroke-opacity="0.85" stroke-width="0.5"/>
<circle cx="133.32" cy="238.53" r="2.85" fill="#cec2cf" fill-opacity="0.7" stroke="#cec2cf" stroke-opacity="0.85" stroke-width="0.5"/>
<circle cx="137.27" cy="237.04" r="2.85" fill="#cec2cf" fill-opacity="0.7" stroke="#cec2cf" stroke-opacity="0.85" stroke-width="0.5"/>
<circle cx="140.91" cy="235.68" r="2.85" fill="#cec2cf" fill-opacity="0.7" stroke="#cec2cf" stroke-opacity="0.85" stroke-width="0.5"/>
<circle cx="144.28" cy="234.41" r="2.85" fill="#cec2cf" fill-opacity="0.7" stroke="#cec2cf" stroke-opacity="0.85" stroke-width="0.5"/>
<circle cx="147.41" cy="233.23" r="2.85" fill="#cec2cf" fill-opacity="0.7" stroke="#cec2cf" stroke-opacity="0.85" stroke-width="0.5"/>
<circle cx="150.34" cy="232.13" r="2.85" fill="#cec2cf" fill-opacity="0.7" stroke="#cec2cf" stroke-opacity="0.85" stroke-width="0.5"/>
<circle cx="153.10" cy="231.09" r="2.85" fill="#cec2cf" fill-opacity="0.7" stroke="#cec2cf" stroke-opacity="0.85" stroke-width="0.5"/>
<circle cx="155.69" cy="230.12" r="2.85" fill="#cec2cf" fill-opacity="0.7" stroke="#cec2cf" stroke-opacity="0.85" stroke-width="0.5"/>
<circle cx="158.15" cy="229.20" r="2.85" fill="#cec2cf" fill-opacity="0.7" stroke="#cec2cf" stroke-opacity="0.85" stroke-width="0.5"/>
<circle cx="160.48" cy="228.30" r="2.85" fill="#cec2cf" fill-opacity="0.7" stroke="#cec2cf" stroke-opacity="0.85" stroke-width="0.5"/>
<circle cx="162.70" cy="227.36" r="2.85" fill="#cec2cf" fill-opacity="0.7" stroke="#cec2cf" stroke-opacity="0.85" stroke-width="0.5"/>
<circle cx="164.81" cy="226.47" r="2.85" fill="#cec2cf" fill-opacity="0.7" stroke="#cec2cf" stroke-opacity="0.85" stroke-width="0.5"/>
<circle cx="166.83" cy="225.62" r="2.85" fill="#cec2cf" fill-opacity="0.7" stroke="#cec2cf" stroke-opacity="0.85" stroke-width="0.5"/>
<circle cx="168.76" cy="224.80" r="2.85" fill="#cec2cf" fill-opacity="0.7" stroke="#cec2cf" stroke-opacity="0.85" stroke-width="0.5"/>
<circle cx="170.62" cy="224.02" r="2.85" fill="#cec2cf" fill-opacity="0.7" stroke="#cec2cf" stroke-opacity="0.85" stroke-width="0.5"/>
<circle cx="172.40" cy="223.27" r="2.85" fill="#cec2cf" fill-opacity="0.7" stroke="#cec2cf" stroke-opacity="0.85" stroke-width="0.5"/>
<circle cx="174.11" cy="222.54" r="2.85" fill="#cec2cf" fill-opacity="0.7" stroke="#cec2cf" stroke-opacity="0.85" stroke-width="0.5"/>
<circle cx="175.76" cy="221.85" r="2.85" fill="#cec2cf" fill-opacity="0.7" stroke="#cec2cf" stroke-opacity="0.85" stroke-width="0.5"/>
<circle cx="177.36" cy="221.17" r="2.85" fill="#cec2cf" fill-opacity="0.7" stroke="#cec2cf" stroke-opacity="0.85" stroke-width="0.5"/>
<circle cx="178.90" cy="220.52" r="2.85" fill="#cec2cf" fill-opacity="0.7" stroke="#cec2cf" stroke-opacity="0.85" stroke-width="0.5"/>
<circle cx="180.39" cy="219.89" r="2.85" fill="#cec2cf" fill-opacity="0.7" stroke="#cec2cf" stroke-opacity="0.85" stroke-width="0.5"/>
<circle cx="181.83" cy="219.29" r="2.85" fill="#cec2cf" fill-opacity="0.7" stroke="#cec2cf" stroke-opacity="0.85" stroke-width="0.5"/>
<circle cx="183.23" cy="218.70" r="2.85" fill="#cec2cf" fill-opacity="0.7" stroke="#cec2cf" stroke-opacity="0.85" stroke-width="0.5"/>
<circle cx="184.58" cy="218.12" r="2.85" fill="#cec2cf" fill-opacity="0.7" stroke="#cec2cf" stroke-opacity="0.85" stroke-width="0.5"/>
<circle cx="185.90" cy="217.57" r="2.85" fill="#cec2cf" fill-opacity="0.7" stroke="#cec2cf" stroke-opacity="0.85" stroke-width="0.5"/>
<circle cx="187.18" cy="217.03" r="2.85" fill="#cec2cf" fill-opacity="0.7" stroke="#cec2cf" stroke-opacity="0.85" stroke-width="0.5"/>
<circle cx="188.43" cy="216.50" r="2.85" fill="#cec2cf" fill-opacity="0.7" stroke="#cec2cf" stroke-opacity="0.85" stroke-width="0.5"/>
<circle cx="189.64" cy="215.99" r="2.85" fill="#cec2cf" fill-opacity="0.7" stroke="#cec2cf" stroke-opacity="0.85" stroke-width="0.5"/>
<circle cx="190.82" cy="215.49" r="2.85" fill="#cec2cf" fill-opacity="0.7" stroke="#cec2cf" stroke-opacity="0.85" stroke-width="0.5"/>
<circle cx="191.97" cy="215.01" r="2.85" fill="#cec2cf" fill-opacity="0.7" stroke="#cec2cf" stroke-opacity="0.85" stroke-width="0.5"/>
<circle cx="193.09" cy="214.53" r="2.85" fill="#cec2cf" fill-opacity="0.7" stroke="#cec2cf" stroke-opacity="0.85" stroke-width="0.5"/>
<circle cx="194.18" cy="214.07" r="2.85" fill="#cec2cf" fill-opacity="0.7" stroke="#cec2cf" stroke-opacity="0.85" stroke-width="0.5"/>
<circle cx="195.25" cy="213.62" r="2.85" fill="#cec2cf" fill-opacity="0.7" stroke="#cec2cf" stroke-opacity="0.85" stroke-width="0.5"/>
<circle cx="196.30" cy="213.18" r="2.85" fill="#cec2cf" fill-opacity="0.7" stroke="#cec2cf" stroke-opacity="0.85" stroke-width="0.5"/>
<circle cx="197.32" cy="212.75" r="2.85" fill="#cec2cf" fill-opacity="0.7" stroke="#cec2cf" stroke-opacity="0.85" stroke-width="0.5"/>
<circle cx="198.32" cy="212.33" r="2.85" fill="#cec2cf" fill-opacity="0.7" stroke="#cec2cf" stroke-opacity="0.85" stroke-width="0.5"/>
<circle cx="199.29" cy="211.92" r="2.85" fill="#cec2cf" fill-opacity="0.7" stroke="#cec2cf" stroke-opacity="0.85" stroke-width="0.5"/>
<circle cx="200.25" cy="211.51" r="2.85" fill="#cec2cf" fill-opacity="0.7" stroke="#cec2cf" stroke-opacity="0.85" stroke-width="0.5"/>
<circle cx="201.19" cy="211.12" r="2.85" fill="#cec2cf" fill-opacity="0.7" stroke="#cec2cf" stroke-opacity="0.85" stroke-width="0.5"/>
<circle cx="55.88" cy="274.71" r="2.75" fill="#88898d" fill-opacity="0.65" stroke="#88898d" stroke-opacity="0.9" stroke-width="0.5"/>
<circle cx="74.30" cy="267.34" r="2.75" fill="#88898d" fill-opacity="0.65" stroke="#88898d" stroke-opacity="0.9" stroke-width="0.5"/>
<circle cx="87.37" cy="262.21" r="2.75" fill="#88898d" fill-opacity="0.65" stroke="#88898d" stroke-opacity="0.9" stroke-width="0.5"/>
<circle cx="97.50" cy="259.26" r="2.75" fill="#88898d" fill-opacity="0.65" stroke="#88898d" stroke-opacity="0.9" stroke-width="0.5"/>
<circle cx="105.79" cy="257.58" r="2.75" fill="#88898d" fill-opacity="0.65" stroke="#88898d" stroke-opacity="0.9" stroke-width="0.5"/>
<circle cx="112.79" cy="255.78" r="2.75" fill="#88898d" fill-opacity="0.65" stroke="#88898d" stroke-opacity="0.9" stroke-width="0.5"/>
<circle cx="118.86" cy="254.57" r="2.75" fill="#88898d" fill-opacity="0.65" stroke="#88898d" stroke-opacity="0.9" stroke-width="0.5"/>
<circle cx="124.21" cy="253.68" r="2.75" fill="#88898d" fill-opacity="0.65" stroke="#88898d" stroke-opacity="0.9" stroke-width="0.5"/>
<circle cx="128.99" cy="252.69" r="2.75" fill="#88898d" fill-opacity="0.65" stroke="#88898d" stroke-opacity="0.9" stroke-width="0.5"/>
<circle cx="133.32" cy="251.48" r="2.75" fill="#88898d" fill-opacity="0.65" stroke="#88898d" stroke-opacity="0.9" stroke-width="0.5"/>
<circle cx="137.27" cy="250.72" r="2.75" fill="#88898d" fill-opacity="0.65" stroke="#88898d" stroke-opacity="0.9" stroke-width="0.5"/>
<circle cx="140.91" cy="250.05" r="2.75" fill="#88898d" fill-opacity="0.65" stroke="#88898d" stroke-opacity="0.9" stroke-width="0.5"/>
<circle cx="144.28" cy="249.42" r="2.75" fill="#88898d" fill-opacity="0.65" stroke="#88898d" stroke-opacity="0.9" stroke-width="0.5"/>
<circle cx="147.41" cy="248.84" r="2.75" fill="#88898d" fill-opacity="0.65" stroke="#88898d" stroke-opacity="0.9" stroke-width="0.5"/>
<circle cx="150.34" cy="248.30" r="2.75" fill="#88898d" fill-opacity="0.65" stroke="#88898d" stroke-opacity="0.9" stroke-width="0.5"/>
<circle cx="153.10" cy="247.79" r="2.75" fill="#88898d" fill-opacity="0.65" stroke="#88898d" stroke-opacity="0.9" stroke-width="0.5"/>
<circle cx="155.69" cy="247.31" r="2.75" fill="#88898d" fill-opacity="0.65" stroke="#88898d" stroke-opacity="0.9" stroke-width="0.5"/>
<circle cx="158.15" cy="246.86" r="2.75" fill="#88898d" fill-opacity="0.65" stroke="#88898d" stroke-opacity="0.9" stroke-width="0.5"/>
<circle cx="160.48" cy="246.43" r="2.75" fill="#88898d" fill-opacity="0.65" stroke="#88898d" stroke-opacity="0.9" stroke-width="0.5"/>
<circle cx="162.70" cy="246.01" r="2.75" fill="#88898d" fill-opacity="0.65" stroke="#88898d" stroke-opacity="0.9" stroke-width="0.5"/>
<circle cx="164.81" cy="245.62" r="2.75" fill="#88898d" fill-opacity="0.65" stroke="#88898d" stroke-opacity="0.9" stroke-width="0.5"/>
<circle cx="166.83" cy="245.25" r="2.75" fill="#88898d" fill-opacity="0.65" stroke="#88898d" stroke-opacity="0.9" stroke-width="0.5"/>
<circle cx="168.76" cy="244.89" r="2.75" fill="#88898d" fill-opacity="0.65" stroke="#88898d" stroke-opacity="0.9" stroke-width="0.5"/>
<circle cx="170.62" cy="244.55" r="2.75" fill="#88898d" fill-opacity="0.65" stroke="#88898d" stroke-opacity="0.9" stroke-width="0.5"/>
<g clip-path="url(#cl00)">
<line x1="35.10" y1="275.30" x2="221.80" y2="230.70" stroke="#5e5e5e" stroke-width="0.9" stroke-opacity="1"/>
</g>
<circle cx="46.00" cy="192.50" r="2.1" fill="#8a8c92" />
<circle cx="46.00" cy="207.80" r="2.1" fill="#e0d9e0" />
<text transform="translate(52.40,194.70) scale(1.0,1)" font-size="8.32" text-anchor="start" font-weight="normal" font-style="normal" fill="#333" ><tspan font-style="italic">ρ</tspan> &lt; <tspan font-style="italic">ρ</tspan><tspan font-size="5.5" dy="1.8">th</tspan><tspan dy="-1.8"></tspan></text>
<text transform="translate(52.40,210.00) scale(1.0,1)" font-size="8.32" text-anchor="start" font-weight="normal" font-style="normal" fill="#333" ><tspan font-style="italic">ρ</tspan> &gt; <tspan font-style="italic">ρ</tspan><tspan font-size="5.5" dy="1.8">th</tspan><tspan dy="-1.8"></tspan></text>
<text transform="translate(144.90,204.80) scale(0.95,1)" font-size="7.90" text-anchor="start" font-weight="normal" font-style="normal" fill="#333" >~|<tspan font-style="italic">ρ</tspan> − <tspan font-style="italic">ρ</tspan><tspan font-size="5" dy="1.8">th</tspan><tspan dy="-1.8">|</tspan><tspan font-size="5" dy="-3.5">2</tspan></text>
<text transform="translate(184.80,259.60) scale(0.95,1)" font-size="7.90" text-anchor="start" font-weight="normal" font-style="normal" fill="#333" >~|<tspan font-style="italic">ρ</tspan> − <tspan font-style="italic">ρ</tspan><tspan font-size="5" dy="1.8">th</tspan><tspan dy="-1.8">|</tspan><tspan font-size="5" dy="-3.5">1</tspan></text>
<text transform="translate(232.20,175.80) scale(1.1,1)" font-size="10.20" text-anchor="start" font-weight="bold" font-style="normal" fill="#111" stroke="#111" stroke-width="0.3">j</text>
<text transform="translate(267.90,176.20) scale(0.95,1)" font-size="8.32" text-anchor="start" font-weight="normal" font-style="normal" fill="#222" >Fruit fly neuron</text>
<text transform="translate(445.40,176.20) scale(0.95,1)" font-size="8.32" text-anchor="end" font-weight="normal" font-style="normal" fill="#222" >Threshold: <tspan font-style="italic">ρ</tspan><tspan font-size="5.6" dy="2.3">th</tspan><tspan dy="-2.3"> ≈ 0.52</tspan></text>
<line x1="267.40" y1="179.30" x2="267.40" y2="295.40" stroke="#b8b8b8" stroke-width="1" />
<line x1="267.40" y1="291.04" x2="270.00" y2="291.04" stroke="#777" stroke-width="0.7" />
<line x1="267.40" y1="287.94" x2="270.00" y2="287.94" stroke="#777" stroke-width="0.7" />
<line x1="267.40" y1="285.53" x2="270.00" y2="285.53" stroke="#777" stroke-width="0.7" />
<line x1="267.40" y1="283.56" x2="270.00" y2="283.56" stroke="#777" stroke-width="0.7" />
<line x1="267.40" y1="281.90" x2="270.00" y2="281.90" stroke="#777" stroke-width="0.7" />
<line x1="267.40" y1="280.46" x2="270.00" y2="280.46" stroke="#777" stroke-width="0.7" />
<line x1="267.40" y1="279.19" x2="270.00" y2="279.19" stroke="#777" stroke-width="0.7" />
<line x1="267.40" y1="278.05" x2="271.90" y2="278.05" stroke="#777" stroke-width="0.7" />
<line x1="267.40" y1="270.57" x2="270.00" y2="270.57" stroke="#777" stroke-width="0.7" />
<line x1="267.40" y1="266.19" x2="270.00" y2="266.19" stroke="#777" stroke-width="0.7" />
<line x1="267.40" y1="263.09" x2="270.00" y2="263.09" stroke="#777" stroke-width="0.7" />
<line x1="267.40" y1="260.68" x2="270.00" y2="260.68" stroke="#777" stroke-width="0.7" />
<line x1="267.40" y1="258.71" x2="270.00" y2="258.71" stroke="#777" stroke-width="0.7" />
<line x1="267.40" y1="257.05" x2="270.00" y2="257.05" stroke="#777" stroke-width="0.7" />
<line x1="267.40" y1="255.61" x2="270.00" y2="255.61" stroke="#777" stroke-width="0.7" />
<line x1="267.40" y1="254.34" x2="270.00" y2="254.34" stroke="#777" stroke-width="0.7" />
<line x1="267.40" y1="253.20" x2="271.90" y2="253.20" stroke="#777" stroke-width="0.7" />
<line x1="267.40" y1="245.72" x2="270.00" y2="245.72" stroke="#777" stroke-width="0.7" />
<line x1="267.40" y1="241.34" x2="270.00" y2="241.34" stroke="#777" stroke-width="0.7" />
<line x1="267.40" y1="238.24" x2="270.00" y2="238.24" stroke="#777" stroke-width="0.7" />
<line x1="267.40" y1="235.83" x2="270.00" y2="235.83" stroke="#777" stroke-width="0.7" />
<line x1="267.40" y1="233.86" x2="270.00" y2="233.86" stroke="#777" stroke-width="0.7" />
<line x1="267.40" y1="232.20" x2="270.00" y2="232.20" stroke="#777" stroke-width="0.7" />
<line x1="267.40" y1="230.76" x2="270.00" y2="230.76" stroke="#777" stroke-width="0.7" />
<line x1="267.40" y1="229.49" x2="270.00" y2="229.49" stroke="#777" stroke-width="0.7" />
<line x1="267.40" y1="228.35" x2="271.90" y2="228.35" stroke="#777" stroke-width="0.7" />
<line x1="267.40" y1="220.87" x2="270.00" y2="220.87" stroke="#777" stroke-width="0.7" />
<line x1="267.40" y1="216.49" x2="270.00" y2="216.49" stroke="#777" stroke-width="0.7" />
<line x1="267.40" y1="213.39" x2="270.00" y2="213.39" stroke="#777" stroke-width="0.7" />
<line x1="267.40" y1="210.98" x2="270.00" y2="210.98" stroke="#777" stroke-width="0.7" />
<line x1="267.40" y1="209.01" x2="270.00" y2="209.01" stroke="#777" stroke-width="0.7" />
<line x1="267.40" y1="207.35" x2="270.00" y2="207.35" stroke="#777" stroke-width="0.7" />
<line x1="267.40" y1="205.91" x2="270.00" y2="205.91" stroke="#777" stroke-width="0.7" />
<line x1="267.40" y1="204.64" x2="270.00" y2="204.64" stroke="#777" stroke-width="0.7" />
<line x1="267.40" y1="203.50" x2="271.90" y2="203.50" stroke="#777" stroke-width="0.7" />
<line x1="267.40" y1="196.02" x2="270.00" y2="196.02" stroke="#777" stroke-width="0.7" />
<line x1="267.40" y1="191.64" x2="270.00" y2="191.64" stroke="#777" stroke-width="0.7" />
<line x1="267.40" y1="188.54" x2="270.00" y2="188.54" stroke="#777" stroke-width="0.7" />
<line x1="267.40" y1="186.13" x2="270.00" y2="186.13" stroke="#777" stroke-width="0.7" />
<line x1="267.40" y1="184.16" x2="270.00" y2="184.16" stroke="#777" stroke-width="0.7" />
<line x1="267.40" y1="182.50" x2="270.00" y2="182.50" stroke="#777" stroke-width="0.7" />
<line x1="267.40" y1="181.06" x2="270.00" y2="181.06" stroke="#777" stroke-width="0.7" />
<line x1="267.40" y1="179.79" x2="270.00" y2="179.79" stroke="#777" stroke-width="0.7" />
<line x1="267.40" y1="295.40" x2="454.30" y2="295.40" stroke="#7a7a7a" stroke-width="1" />
<line x1="275.11" y1="295.40" x2="275.11" y2="292.80" stroke="#777" stroke-width="0.7" />
<line x1="288.18" y1="295.40" x2="288.18" y2="292.80" stroke="#777" stroke-width="0.7" />
<line x1="298.32" y1="295.40" x2="298.32" y2="292.80" stroke="#777" stroke-width="0.7" />
<line x1="306.60" y1="295.40" x2="306.60" y2="292.80" stroke="#777" stroke-width="0.7" />
<line x1="313.60" y1="295.40" x2="313.60" y2="292.80" stroke="#777" stroke-width="0.7" />
<line x1="319.67" y1="295.40" x2="319.67" y2="292.80" stroke="#777" stroke-width="0.7" />
<line x1="325.02" y1="295.40" x2="325.02" y2="292.80" stroke="#777" stroke-width="0.7" />
<line x1="329.80" y1="295.40" x2="329.80" y2="290.90" stroke="#777" stroke-width="0.7" />
<line x1="361.29" y1="295.40" x2="361.29" y2="292.80" stroke="#777" stroke-width="0.7" />
<line x1="379.71" y1="295.40" x2="379.71" y2="292.80" stroke="#777" stroke-width="0.7" />
<line x1="392.78" y1="295.40" x2="392.78" y2="292.80" stroke="#777" stroke-width="0.7" />
<line x1="402.92" y1="295.40" x2="402.92" y2="292.80" stroke="#777" stroke-width="0.7" />
<line x1="411.20" y1="295.40" x2="411.20" y2="292.80" stroke="#777" stroke-width="0.7" />
<line x1="418.20" y1="295.40" x2="418.20" y2="292.80" stroke="#777" stroke-width="0.7" />
<line x1="424.27" y1="295.40" x2="424.27" y2="292.80" stroke="#777" stroke-width="0.7" />
<line x1="429.62" y1="295.40" x2="429.62" y2="292.80" stroke="#777" stroke-width="0.7" />
<line x1="434.40" y1="295.40" x2="434.40" y2="290.90" stroke="#777" stroke-width="0.7" />
<text transform="translate(260.40,206.50) scale(0.95,1)" font-size="7.90" text-anchor="end" font-weight="normal" font-style="normal" fill="#333" >10</text>
<text transform="translate(260.80,202.30) scale(0.95,1)" font-size="5.20" text-anchor="start" font-weight="normal" font-style="normal" fill="#333" >1</text>
<text transform="translate(256.80,282.05) scale(0.95,1)" font-size="7.90" text-anchor="end" font-weight="normal" font-style="normal" fill="#333" >10</text>
<text transform="translate(257.00,277.65) scale(0.95,1)" font-size="5.20" text-anchor="start" font-weight="normal" font-style="normal" fill="#333" >−2</text>
<text transform="translate(322.40,307.40) scale(0.95,1)" font-size="7.90" text-anchor="start" font-weight="normal" font-style="normal" fill="#333" >10</text>
<text transform="translate(331.00,303.40) scale(0.95,1)" font-size="5.20" text-anchor="start" font-weight="normal" font-style="normal" fill="#333" >−1</text>
<text transform="translate(428.80,307.40) scale(0.95,1)" font-size="7.90" text-anchor="start" font-weight="normal" font-style="normal" fill="#333" >10</text>
<text transform="translate(437.20,303.40) scale(0.95,1)" font-size="5.20" text-anchor="start" font-weight="normal" font-style="normal" fill="#333" >0</text>
<text transform="translate(348.70,317.90) scale(0.95,1)" font-size="7.90" text-anchor="start" font-weight="normal" font-style="normal" fill="#333" >|<tspan font-style="italic">ρ</tspan> − <tspan font-style="italic">ρ</tspan><tspan font-size="5" dy="1.6">th</tspan><tspan dy="-1.6">|</tspan></text>
<text transform="translate(243.6,237.0) rotate(-90)" font-size="8.6" text-anchor="middle" fill="#333">|∫<tspan font-size="4.2" dy="2.2" font-style="italic">ρ</tspan><tspan font-size="4.2" dx="-2.2" dy="-6.6" font-style="italic">ρ</tspan><tspan font-size="3.2" dy="0.8">th</tspan><tspan dy="3.6"> Ω(</tspan><tspan font-style="italic">ρ</tspan>)d<tspan font-style="italic">ρ</tspan>|</text>
<circle cx="268.80" cy="258.54" r="3.0" fill="#9a9ca0" fill-opacity="0.6"/>
<circle cx="270.50" cy="255.93" r="3.0" fill="#9a9ca0" fill-opacity="0.6"/>
<circle cx="272.50" cy="253.81" r="3.0" fill="#9a9ca0" fill-opacity="0.6"/>
<circle cx="275.50" cy="251.60" r="3.0" fill="#9a9ca0" fill-opacity="0.6"/>
<circle cx="279.00" cy="251.38" r="3.0" fill="#9a9ca0" fill-opacity="0.6"/>
<circle cx="281.80" cy="251.20" r="3.0" fill="#9a9ca0" fill-opacity="0.6"/>
<circle cx="290.00" cy="248.30" r="3.0" fill="#9a9ca0" fill-opacity="0.6"/>
<circle cx="294.00" cy="246.89" r="3.0" fill="#9a9ca0" fill-opacity="0.6"/>
<circle cx="298.50" cy="245.30" r="3.0" fill="#9a9ca0" fill-opacity="0.6"/>
<circle cx="301.00" cy="243.99" r="3.0" fill="#46484c" fill-opacity="0.45"/>
<circle cx="302.59" cy="242.97" r="3.0" fill="#46484c" fill-opacity="0.45"/>
<circle cx="304.17" cy="244.10" r="3.0" fill="#46484c" fill-opacity="0.45"/>
<circle cx="305.76" cy="241.77" r="3.0" fill="#46484c" fill-opacity="0.45"/>
<circle cx="307.34" cy="242.78" r="3.0" fill="#46484c" fill-opacity="0.45"/>
<circle cx="308.93" cy="241.76" r="3.0" fill="#46484c" fill-opacity="0.45"/>
<circle cx="310.51" cy="240.30" r="3.0" fill="#46484c" fill-opacity="0.45"/>
<circle cx="312.10" cy="241.26" r="3.0" fill="#46484c" fill-opacity="0.45"/>
<circle cx="313.68" cy="239.27" r="3.0" fill="#46484c" fill-opacity="0.45"/>
<circle cx="315.27" cy="240.06" r="3.0" fill="#46484c" fill-opacity="0.45"/>
<circle cx="316.85" cy="238.42" r="3.0" fill="#46484c" fill-opacity="0.45"/>
<circle cx="318.44" cy="238.01" r="3.0" fill="#46484c" fill-opacity="0.45"/>
<circle cx="320.02" cy="238.54" r="3.0" fill="#46484c" fill-opacity="0.45"/>
<circle cx="321.61" cy="239.18" r="3.0" fill="#46484c" fill-opacity="0.45"/>
<circle cx="323.20" cy="236.27" r="3.0" fill="#46484c" fill-opacity="0.45"/>
<circle cx="324.78" cy="235.94" r="3.0" fill="#46484c" fill-opacity="0.45"/>
<circle cx="326.37" cy="236.57" r="3.0" fill="#46484c" fill-opacity="0.45"/>
<circle cx="327.95" cy="236.94" r="3.0" fill="#46484c" fill-opacity="0.45"/>
<circle cx="329.54" cy="235.10" r="3.0" fill="#46484c" fill-opacity="0.45"/>
<circle cx="331.12" cy="233.87" r="3.0" fill="#46484c" fill-opacity="0.45"/>
<circle cx="332.71" cy="235.17" r="3.0" fill="#46484c" fill-opacity="0.45"/>
<circle cx="334.29" cy="231.80" r="3.0" fill="#46484c" fill-opacity="0.45"/>
<circle cx="335.88" cy="234.00" r="3.0" fill="#46484c" fill-opacity="0.45"/>
<circle cx="337.46" cy="231.79" r="3.0" fill="#46484c" fill-opacity="0.45"/>
<circle cx="339.05" cy="230.92" r="3.0" fill="#46484c" fill-opacity="0.45"/>
<circle cx="340.63" cy="230.44" r="3.0" fill="#46484c" fill-opacity="0.45"/>
<circle cx="342.22" cy="230.66" r="3.0" fill="#46484c" fill-opacity="0.45"/>
<circle cx="343.80" cy="231.89" r="3.0" fill="#46484c" fill-opacity="0.45"/>
<circle cx="345.39" cy="229.46" r="3.0" fill="#46484c" fill-opacity="0.45"/>
<circle cx="346.98" cy="230.34" r="3.0" fill="#46484c" fill-opacity="0.45"/>
<circle cx="348.56" cy="230.13" r="3.0" fill="#46484c" fill-opacity="0.45"/>
<circle cx="350.15" cy="228.35" r="3.0" fill="#46484c" fill-opacity="0.45"/>
<circle cx="351.73" cy="227.85" r="3.0" fill="#46484c" fill-opacity="0.45"/>
<circle cx="353.32" cy="225.23" r="3.0" fill="#46484c" fill-opacity="0.45"/>
<circle cx="354.90" cy="224.16" r="3.0" fill="#46484c" fill-opacity="0.45"/>
<circle cx="356.49" cy="224.37" r="3.0" fill="#46484c" fill-opacity="0.45"/>
<circle cx="358.07" cy="225.68" r="3.0" fill="#46484c" fill-opacity="0.45"/>
<circle cx="359.66" cy="224.67" r="3.0" fill="#46484c" fill-opacity="0.45"/>
<circle cx="361.24" cy="224.10" r="3.0" fill="#46484c" fill-opacity="0.45"/>
<circle cx="362.83" cy="224.76" r="3.0" fill="#46484c" fill-opacity="0.45"/>
<circle cx="364.41" cy="224.03" r="3.0" fill="#46484c" fill-opacity="0.45"/>
<circle cx="366.00" cy="223.16" r="3.0" fill="#46484c" fill-opacity="0.45"/>
<circle cx="370.60" cy="223.64" r="3.0" fill="#46484c" fill-opacity="0.45"/>
<circle cx="375.00" cy="223.12" r="3.0" fill="#46484c" fill-opacity="0.45"/>
<circle cx="378.90" cy="221.48" r="3.0" fill="#46484c" fill-opacity="0.45"/>
<circle cx="393.40" cy="222.54" r="3.0" fill="#46484c" fill-opacity="0.45"/>
<g clip-path="url(#cl10)">
<line x1="267.40" y1="247.40" x2="454.60" y2="206.10" stroke="#8e939b" stroke-width="2.2" stroke-opacity="1"/>
<line x1="267.40" y1="261.50" x2="440.50" y2="179.00" stroke="#8a8e5c" stroke-width="0.8" stroke-opacity="1"/>
</g>
<circle cx="269.20" cy="246.40" r="3.3" fill="#848a66" fill-opacity="0.8"/>
<circle cx="276.50" cy="243.60" r="3.3" fill="#848a66" fill-opacity="0.8"/>
<circle cx="283.90" cy="236.90" r="3.3" fill="#848a66" fill-opacity="0.8"/>
<circle cx="286.50" cy="236.48" r="3.3" fill="#848a66" fill-opacity="0.8"/>
<circle cx="300.60" cy="235.90" r="3.3" fill="#848a66" fill-opacity="0.8"/>
<circle cx="303.80" cy="235.39" r="3.3" fill="#848a66" fill-opacity="0.8"/>
<circle cx="306.90" cy="234.89" r="3.3" fill="#848a66" fill-opacity="0.8"/>
<circle cx="310.00" cy="234.40" r="3.3" fill="#848a66" fill-opacity="0.8"/>
<circle cx="313.00" cy="232.30" r="3.3" fill="#6c7250" fill-opacity="0.6"/>
<circle cx="314.30" cy="232.14" r="3.3" fill="#6c7250" fill-opacity="0.6"/>
<circle cx="315.60" cy="230.89" r="3.3" fill="#6c7250" fill-opacity="0.6"/>
<circle cx="316.89" cy="228.96" r="3.3" fill="#6c7250" fill-opacity="0.6"/>
<circle cx="318.19" cy="229.52" r="3.3" fill="#6c7250" fill-opacity="0.6"/>
<circle cx="319.49" cy="226.67" r="3.3" fill="#6c7250" fill-opacity="0.6"/>
<circle cx="320.79" cy="226.46" r="3.3" fill="#6c7250" fill-opacity="0.6"/>
<circle cx="322.09" cy="226.34" r="3.3" fill="#6c7250" fill-opacity="0.6"/>
<circle cx="323.38" cy="224.15" r="3.3" fill="#6c7250" fill-opacity="0.6"/>
<circle cx="324.68" cy="224.02" r="3.3" fill="#6c7250" fill-opacity="0.6"/>
<circle cx="325.98" cy="222.25" r="3.3" fill="#6c7250" fill-opacity="0.6"/>
<circle cx="327.28" cy="223.35" r="3.3" fill="#6c7250" fill-opacity="0.6"/>
<circle cx="328.57" cy="223.29" r="3.3" fill="#6c7250" fill-opacity="0.6"/>
<circle cx="329.87" cy="222.59" r="3.3" fill="#6c7250" fill-opacity="0.6"/>
<circle cx="331.17" cy="222.98" r="3.3" fill="#6c7250" fill-opacity="0.6"/>
<circle cx="332.47" cy="221.46" r="3.3" fill="#6c7250" fill-opacity="0.6"/>
<circle cx="333.77" cy="222.02" r="3.3" fill="#6c7250" fill-opacity="0.6"/>
<circle cx="335.06" cy="221.52" r="3.3" fill="#6c7250" fill-opacity="0.6"/>
<circle cx="336.36" cy="221.21" r="3.3" fill="#6c7250" fill-opacity="0.6"/>
<circle cx="337.66" cy="220.66" r="3.3" fill="#6c7250" fill-opacity="0.6"/>
<circle cx="338.96" cy="221.22" r="3.3" fill="#6c7250" fill-opacity="0.6"/>
<circle cx="340.26" cy="221.14" r="3.3" fill="#6c7250" fill-opacity="0.6"/>
<circle cx="341.55" cy="219.79" r="3.3" fill="#6c7250" fill-opacity="0.6"/>
<circle cx="342.85" cy="219.90" r="3.3" fill="#6c7250" fill-opacity="0.6"/>
<circle cx="344.15" cy="218.26" r="3.3" fill="#6c7250" fill-opacity="0.6"/>
<circle cx="345.45" cy="219.20" r="3.3" fill="#6c7250" fill-opacity="0.6"/>
<circle cx="346.74" cy="218.49" r="3.3" fill="#6c7250" fill-opacity="0.6"/>
<circle cx="348.04" cy="218.66" r="3.3" fill="#6c7250" fill-opacity="0.6"/>
<circle cx="349.34" cy="217.69" r="3.3" fill="#6c7250" fill-opacity="0.6"/>
<circle cx="350.64" cy="215.92" r="3.3" fill="#6c7250" fill-opacity="0.6"/>
<circle cx="351.94" cy="215.55" r="3.3" fill="#6c7250" fill-opacity="0.6"/>
<circle cx="353.23" cy="215.58" r="3.3" fill="#6c7250" fill-opacity="0.6"/>
<circle cx="354.53" cy="213.56" r="3.3" fill="#6c7250" fill-opacity="0.6"/>
<circle cx="355.83" cy="213.98" r="3.3" fill="#6c7250" fill-opacity="0.6"/>
<circle cx="357.13" cy="212.82" r="3.3" fill="#6c7250" fill-opacity="0.6"/>
<circle cx="358.43" cy="212.18" r="3.3" fill="#6c7250" fill-opacity="0.6"/>
<circle cx="359.72" cy="211.54" r="3.3" fill="#6c7250" fill-opacity="0.6"/>
<circle cx="361.02" cy="212.58" r="3.3" fill="#6c7250" fill-opacity="0.6"/>
<circle cx="362.32" cy="210.65" r="3.3" fill="#6c7250" fill-opacity="0.6"/>
<circle cx="363.62" cy="210.39" r="3.3" fill="#6c7250" fill-opacity="0.6"/>
<circle cx="364.91" cy="210.18" r="3.3" fill="#6c7250" fill-opacity="0.6"/>
<circle cx="366.21" cy="210.72" r="3.3" fill="#6c7250" fill-opacity="0.6"/>
<circle cx="367.51" cy="208.46" r="3.3" fill="#6c7250" fill-opacity="0.6"/>
<circle cx="368.81" cy="208.75" r="3.3" fill="#6c7250" fill-opacity="0.6"/>
<circle cx="370.11" cy="208.45" r="3.3" fill="#6c7250" fill-opacity="0.6"/>
<circle cx="371.40" cy="208.67" r="3.3" fill="#6c7250" fill-opacity="0.6"/>
<circle cx="372.70" cy="208.00" r="3.3" fill="#6c7250" fill-opacity="0.6"/>
<circle cx="374.00" cy="207.58" r="3.3" fill="#6c7250" fill-opacity="0.6"/>
<circle cx="375.30" cy="205.77" r="3.3" fill="#6c7250" fill-opacity="0.6"/>
<circle cx="376.60" cy="205.56" r="3.3" fill="#6c7250" fill-opacity="0.6"/>
<circle cx="377.89" cy="204.91" r="3.3" fill="#6c7250" fill-opacity="0.6"/>
<circle cx="379.19" cy="205.55" r="3.3" fill="#6c7250" fill-opacity="0.6"/>
<circle cx="380.49" cy="205.20" r="3.3" fill="#6c7250" fill-opacity="0.6"/>
<circle cx="381.79" cy="202.90" r="3.3" fill="#6c7250" fill-opacity="0.6"/>
<circle cx="383.09" cy="202.44" r="3.3" fill="#6c7250" fill-opacity="0.6"/>
<circle cx="384.38" cy="202.05" r="3.3" fill="#6c7250" fill-opacity="0.6"/>
<circle cx="385.68" cy="201.53" r="3.3" fill="#6c7250" fill-opacity="0.6"/>
<circle cx="386.98" cy="201.57" r="3.3" fill="#6c7250" fill-opacity="0.6"/>
<circle cx="388.28" cy="201.28" r="3.3" fill="#6c7250" fill-opacity="0.6"/>
<circle cx="389.57" cy="200.04" r="3.3" fill="#6c7250" fill-opacity="0.6"/>
<circle cx="390.87" cy="198.95" r="3.3" fill="#6c7250" fill-opacity="0.6"/>
<circle cx="392.17" cy="199.35" r="3.3" fill="#6c7250" fill-opacity="0.6"/>
<circle cx="393.47" cy="198.72" r="3.3" fill="#6c7250" fill-opacity="0.6"/>
<circle cx="394.77" cy="198.64" r="3.3" fill="#6c7250" fill-opacity="0.6"/>
<circle cx="396.06" cy="198.97" r="3.3" fill="#6c7250" fill-opacity="0.6"/>
<circle cx="397.36" cy="197.96" r="3.3" fill="#6c7250" fill-opacity="0.6"/>
<circle cx="398.66" cy="197.19" r="3.3" fill="#6c7250" fill-opacity="0.6"/>
<circle cx="399.96" cy="197.02" r="3.3" fill="#6c7250" fill-opacity="0.6"/>
<circle cx="401.26" cy="196.76" r="3.3" fill="#6c7250" fill-opacity="0.6"/>
<circle cx="402.55" cy="195.01" r="3.3" fill="#6c7250" fill-opacity="0.6"/>
<circle cx="403.85" cy="196.48" r="3.3" fill="#6c7250" fill-opacity="0.6"/>
<circle cx="405.15" cy="195.83" r="3.3" fill="#6c7250" fill-opacity="0.6"/>
<circle cx="406.45" cy="195.64" r="3.3" fill="#6c7250" fill-opacity="0.6"/>
<circle cx="407.74" cy="195.09" r="3.3" fill="#6c7250" fill-opacity="0.6"/>
<circle cx="409.04" cy="193.81" r="3.3" fill="#6c7250" fill-opacity="0.6"/>
<circle cx="410.34" cy="193.43" r="3.3" fill="#6c7250" fill-opacity="0.6"/>
<circle cx="411.64" cy="192.39" r="3.3" fill="#6c7250" fill-opacity="0.6"/>
<circle cx="412.94" cy="193.17" r="3.3" fill="#6c7250" fill-opacity="0.6"/>
<circle cx="414.23" cy="191.53" r="3.3" fill="#6c7250" fill-opacity="0.6"/>
<circle cx="415.53" cy="191.15" r="3.3" fill="#6c7250" fill-opacity="0.6"/>
<circle cx="416.83" cy="191.07" r="3.3" fill="#6c7250" fill-opacity="0.6"/>
<circle cx="418.13" cy="190.69" r="3.3" fill="#6c7250" fill-opacity="0.6"/>
<circle cx="419.43" cy="190.86" r="3.3" fill="#6c7250" fill-opacity="0.6"/>
<circle cx="420.72" cy="190.00" r="3.3" fill="#6c7250" fill-opacity="0.6"/>
<circle cx="422.02" cy="189.66" r="3.3" fill="#6c7250" fill-opacity="0.6"/>
<circle cx="423.32" cy="189.76" r="3.3" fill="#6c7250" fill-opacity="0.6"/>
<circle cx="424.62" cy="189.42" r="3.3" fill="#6c7250" fill-opacity="0.6"/>
<circle cx="425.91" cy="189.77" r="3.3" fill="#6c7250" fill-opacity="0.6"/>
<circle cx="427.21" cy="188.80" r="3.3" fill="#6c7250" fill-opacity="0.6"/>
<circle cx="428.51" cy="190.44" r="3.3" fill="#6c7250" fill-opacity="0.6"/>
<circle cx="429.81" cy="189.64" r="3.3" fill="#6c7250" fill-opacity="0.6"/>
<circle cx="431.11" cy="188.39" r="3.3" fill="#6c7250" fill-opacity="0.6"/>
<circle cx="432.40" cy="188.39" r="3.3" fill="#6c7250" fill-opacity="0.6"/>
<circle cx="433.70" cy="188.37" r="3.3" fill="#6c7250" fill-opacity="0.6"/>
<circle cx="435.00" cy="188.18" r="3.3" fill="#6c7250" fill-opacity="0.6"/>
<circle cx="278.30" cy="192.50" r="2.1" fill="#8a8c92" />
<circle cx="278.30" cy="207.80" r="2.1" fill="#9a9d80" />
<text transform="translate(284.70,194.70) scale(1.0,1)" font-size="8.32" text-anchor="start" font-weight="normal" font-style="normal" fill="#333" ><tspan font-style="italic">ρ</tspan> &lt; <tspan font-style="italic">ρ</tspan><tspan font-size="5.5" dy="1.8">th</tspan><tspan dy="-1.8"></tspan></text>
<text transform="translate(284.70,210.00) scale(1.0,1)" font-size="8.32" text-anchor="start" font-weight="normal" font-style="normal" fill="#333" ><tspan font-style="italic">ρ</tspan> &gt; <tspan font-style="italic">ρ</tspan><tspan font-size="5.5" dy="1.8">th</tspan><tspan dy="-1.8"></tspan></text>
<text transform="translate(343.80,196.80) scale(0.95,1)" font-size="7.90" text-anchor="start" font-weight="normal" font-style="normal" fill="#333" >~|<tspan font-style="italic">ρ</tspan> − <tspan font-style="italic">ρ</tspan><tspan font-size="5" dy="1.8">th</tspan><tspan dy="-1.8">|</tspan><tspan font-size="5" dy="-3.5">2</tspan></text>
<text transform="translate(414.00,259.60) scale(0.95,1)" font-size="7.90" text-anchor="start" font-weight="normal" font-style="normal" fill="#333" >~|<tspan font-style="italic">ρ</tspan> − <tspan font-style="italic">ρ</tspan><tspan font-size="5" dy="1.8">th</tspan><tspan dy="-1.8">|</tspan><tspan font-size="5" dy="-3.5">1</tspan></text>
<text transform="translate(462.00,176.10) scale(1.1,1)" font-size="10.20" text-anchor="start" font-weight="bold" font-style="normal" fill="#111" stroke="#111" stroke-width="0.3">k</text>
<text transform="translate(498.80,176.20) scale(0.95,1)" font-size="8.32" text-anchor="start" font-weight="normal" font-style="normal" fill="#222" >Blood vessel</text>
<text transform="translate(673.00,176.20) scale(0.95,1)" font-size="8.32" text-anchor="end" font-weight="normal" font-style="normal" fill="#222" >Threshold: <tspan font-style="italic">ρ</tspan><tspan font-size="5.6" dy="2.3">th</tspan><tspan dy="-2.3"> ≈ 0.83</tspan></text>
<line x1="498.30" y1="179.30" x2="498.30" y2="295.40" stroke="#b8b8b8" stroke-width="1" />
<line x1="498.30" y1="291.04" x2="500.90" y2="291.04" stroke="#777" stroke-width="0.7" />
<line x1="498.30" y1="287.94" x2="500.90" y2="287.94" stroke="#777" stroke-width="0.7" />
<line x1="498.30" y1="285.53" x2="500.90" y2="285.53" stroke="#777" stroke-width="0.7" />
<line x1="498.30" y1="283.56" x2="500.90" y2="283.56" stroke="#777" stroke-width="0.7" />
<line x1="498.30" y1="281.90" x2="500.90" y2="281.90" stroke="#777" stroke-width="0.7" />
<line x1="498.30" y1="280.46" x2="500.90" y2="280.46" stroke="#777" stroke-width="0.7" />
<line x1="498.30" y1="279.19" x2="500.90" y2="279.19" stroke="#777" stroke-width="0.7" />
<line x1="498.30" y1="278.05" x2="502.80" y2="278.05" stroke="#777" stroke-width="0.7" />
<line x1="498.30" y1="270.57" x2="500.90" y2="270.57" stroke="#777" stroke-width="0.7" />
<line x1="498.30" y1="266.19" x2="500.90" y2="266.19" stroke="#777" stroke-width="0.7" />
<line x1="498.30" y1="263.09" x2="500.90" y2="263.09" stroke="#777" stroke-width="0.7" />
<line x1="498.30" y1="260.68" x2="500.90" y2="260.68" stroke="#777" stroke-width="0.7" />
<line x1="498.30" y1="258.71" x2="500.90" y2="258.71" stroke="#777" stroke-width="0.7" />
<line x1="498.30" y1="257.05" x2="500.90" y2="257.05" stroke="#777" stroke-width="0.7" />
<line x1="498.30" y1="255.61" x2="500.90" y2="255.61" stroke="#777" stroke-width="0.7" />
<line x1="498.30" y1="254.34" x2="500.90" y2="254.34" stroke="#777" stroke-width="0.7" />
<line x1="498.30" y1="253.20" x2="502.80" y2="253.20" stroke="#777" stroke-width="0.7" />
<line x1="498.30" y1="245.72" x2="500.90" y2="245.72" stroke="#777" stroke-width="0.7" />
<line x1="498.30" y1="241.34" x2="500.90" y2="241.34" stroke="#777" stroke-width="0.7" />
<line x1="498.30" y1="238.24" x2="500.90" y2="238.24" stroke="#777" stroke-width="0.7" />
<line x1="498.30" y1="235.83" x2="500.90" y2="235.83" stroke="#777" stroke-width="0.7" />
<line x1="498.30" y1="233.86" x2="500.90" y2="233.86" stroke="#777" stroke-width="0.7" />
<line x1="498.30" y1="232.20" x2="500.90" y2="232.20" stroke="#777" stroke-width="0.7" />
<line x1="498.30" y1="230.76" x2="500.90" y2="230.76" stroke="#777" stroke-width="0.7" />
<line x1="498.30" y1="229.49" x2="500.90" y2="229.49" stroke="#777" stroke-width="0.7" />
<line x1="498.30" y1="228.35" x2="502.80" y2="228.35" stroke="#777" stroke-width="0.7" />
<line x1="498.30" y1="220.87" x2="500.90" y2="220.87" stroke="#777" stroke-width="0.7" />
<line x1="498.30" y1="216.49" x2="500.90" y2="216.49" stroke="#777" stroke-width="0.7" />
<line x1="498.30" y1="213.39" x2="500.90" y2="213.39" stroke="#777" stroke-width="0.7" />
<line x1="498.30" y1="210.98" x2="500.90" y2="210.98" stroke="#777" stroke-width="0.7" />
<line x1="498.30" y1="209.01" x2="500.90" y2="209.01" stroke="#777" stroke-width="0.7" />
<line x1="498.30" y1="207.35" x2="500.90" y2="207.35" stroke="#777" stroke-width="0.7" />
<line x1="498.30" y1="205.91" x2="500.90" y2="205.91" stroke="#777" stroke-width="0.7" />
<line x1="498.30" y1="204.64" x2="500.90" y2="204.64" stroke="#777" stroke-width="0.7" />
<line x1="498.30" y1="203.50" x2="502.80" y2="203.50" stroke="#777" stroke-width="0.7" />
<line x1="498.30" y1="196.02" x2="500.90" y2="196.02" stroke="#777" stroke-width="0.7" />
<line x1="498.30" y1="191.64" x2="500.90" y2="191.64" stroke="#777" stroke-width="0.7" />
<line x1="498.30" y1="188.54" x2="500.90" y2="188.54" stroke="#777" stroke-width="0.7" />
<line x1="498.30" y1="186.13" x2="500.90" y2="186.13" stroke="#777" stroke-width="0.7" />
<line x1="498.30" y1="184.16" x2="500.90" y2="184.16" stroke="#777" stroke-width="0.7" />
<line x1="498.30" y1="182.50" x2="500.90" y2="182.50" stroke="#777" stroke-width="0.7" />
<line x1="498.30" y1="181.06" x2="500.90" y2="181.06" stroke="#777" stroke-width="0.7" />
<line x1="498.30" y1="179.79" x2="500.90" y2="179.79" stroke="#777" stroke-width="0.7" />
<line x1="498.30" y1="295.40" x2="685.20" y2="295.40" stroke="#7a7a7a" stroke-width="1" />
<line x1="506.01" y1="295.40" x2="506.01" y2="292.80" stroke="#777" stroke-width="0.7" />
<line x1="519.08" y1="295.40" x2="519.08" y2="292.80" stroke="#777" stroke-width="0.7" />
<line x1="529.22" y1="295.40" x2="529.22" y2="292.80" stroke="#777" stroke-width="0.7" />
<line x1="537.50" y1="295.40" x2="537.50" y2="292.80" stroke="#777" stroke-width="0.7" />
<line x1="544.50" y1="295.40" x2="544.50" y2="292.80" stroke="#777" stroke-width="0.7" />
<line x1="550.57" y1="295.40" x2="550.57" y2="292.80" stroke="#777" stroke-width="0.7" />
<line x1="555.92" y1="295.40" x2="555.92" y2="292.80" stroke="#777" stroke-width="0.7" />
<line x1="560.70" y1="295.40" x2="560.70" y2="290.90" stroke="#777" stroke-width="0.7" />
<line x1="592.19" y1="295.40" x2="592.19" y2="292.80" stroke="#777" stroke-width="0.7" />
<line x1="610.61" y1="295.40" x2="610.61" y2="292.80" stroke="#777" stroke-width="0.7" />
<line x1="623.68" y1="295.40" x2="623.68" y2="292.80" stroke="#777" stroke-width="0.7" />
<line x1="633.82" y1="295.40" x2="633.82" y2="292.80" stroke="#777" stroke-width="0.7" />
<line x1="642.10" y1="295.40" x2="642.10" y2="292.80" stroke="#777" stroke-width="0.7" />
<line x1="649.10" y1="295.40" x2="649.10" y2="292.80" stroke="#777" stroke-width="0.7" />
<line x1="655.17" y1="295.40" x2="655.17" y2="292.80" stroke="#777" stroke-width="0.7" />
<line x1="660.52" y1="295.40" x2="660.52" y2="292.80" stroke="#777" stroke-width="0.7" />
<line x1="665.30" y1="295.40" x2="665.30" y2="290.90" stroke="#777" stroke-width="0.7" />
<text transform="translate(491.30,206.50) scale(0.95,1)" font-size="7.90" text-anchor="end" font-weight="normal" font-style="normal" fill="#333" >10</text>
<text transform="translate(491.70,202.30) scale(0.95,1)" font-size="5.20" text-anchor="start" font-weight="normal" font-style="normal" fill="#333" >1</text>
<text transform="translate(487.70,282.05) scale(0.95,1)" font-size="7.90" text-anchor="end" font-weight="normal" font-style="normal" fill="#333" >10</text>
<text transform="translate(487.90,277.65) scale(0.95,1)" font-size="5.20" text-anchor="start" font-weight="normal" font-style="normal" fill="#333" >−2</text>
<text transform="translate(553.30,307.40) scale(0.95,1)" font-size="7.90" text-anchor="start" font-weight="normal" font-style="normal" fill="#333" >10</text>
<text transform="translate(561.90,303.40) scale(0.95,1)" font-size="5.20" text-anchor="start" font-weight="normal" font-style="normal" fill="#333" >−1</text>
<text transform="translate(659.70,307.40) scale(0.95,1)" font-size="7.90" text-anchor="start" font-weight="normal" font-style="normal" fill="#333" >10</text>
<text transform="translate(668.10,303.40) scale(0.95,1)" font-size="5.20" text-anchor="start" font-weight="normal" font-style="normal" fill="#333" >0</text>
<text transform="translate(579.60,317.90) scale(0.95,1)" font-size="7.90" text-anchor="start" font-weight="normal" font-style="normal" fill="#333" >|<tspan font-style="italic">ρ</tspan> − <tspan font-style="italic">ρ</tspan><tspan font-size="5" dy="1.6">th</tspan><tspan dy="-1.6">|</tspan></text>
<text transform="translate(474.5,237.0) rotate(-90)" font-size="8.6" text-anchor="middle" fill="#333">|∫<tspan font-size="4.2" dy="2.2" font-style="italic">ρ</tspan><tspan font-size="4.2" dx="-2.2" dy="-6.6" font-style="italic">ρ</tspan><tspan font-size="3.2" dy="0.8">th</tspan><tspan dy="3.6"> Ω(</tspan><tspan font-style="italic">ρ</tspan>)d<tspan font-style="italic">ρ</tspan>|</text>
<g clip-path="url(#cl20)">
<line x1="498.30" y1="276.50" x2="685.00" y2="189.00" stroke="#d9a097" stroke-width="5.1" stroke-opacity="0.85"/>
<line x1="498.30" y1="267.30" x2="685.00" y2="223.80" stroke="#7c8084" stroke-width="1.8" stroke-opacity="1"/>
</g>
<circle cx="524.43" cy="254.14" r="2.85" fill="#d99e95" fill-opacity="0.6" stroke="#d99e95" stroke-opacity="0.9" stroke-width="0.5"/>
<circle cx="544.50" cy="249.10" r="2.85" fill="#d99e95" fill-opacity="0.6" stroke="#d99e95" stroke-opacity="0.9" stroke-width="0.5"/>
<circle cx="558.37" cy="245.80" r="2.85" fill="#d99e95" fill-opacity="0.6" stroke="#d99e95" stroke-opacity="0.9" stroke-width="0.5"/>
<circle cx="568.99" cy="244.49" r="2.85" fill="#d99e95" fill-opacity="0.6" stroke="#d99e95" stroke-opacity="0.9" stroke-width="0.5"/>
<circle cx="577.58" cy="239.76" r="2.85" fill="#d99e95" fill-opacity="0.6" stroke="#d99e95" stroke-opacity="0.9" stroke-width="0.5"/>
<circle cx="584.81" cy="236.82" r="2.85" fill="#d99e95" fill-opacity="0.6" stroke="#d99e95" stroke-opacity="0.9" stroke-width="0.5"/>
<circle cx="591.04" cy="234.30" r="2.85" fill="#d99e95" fill-opacity="0.6" stroke="#d99e95" stroke-opacity="0.9" stroke-width="0.5"/>
<circle cx="596.52" cy="229.85" r="2.85" fill="#d99e95" fill-opacity="0.6" stroke="#d99e95" stroke-opacity="0.9" stroke-width="0.5"/>
<circle cx="601.41" cy="228.06" r="2.85" fill="#d99e95" fill-opacity="0.6" stroke="#d99e95" stroke-opacity="0.9" stroke-width="0.5"/>
<circle cx="605.83" cy="226.44" r="2.85" fill="#d99e95" fill-opacity="0.6" stroke="#d99e95" stroke-opacity="0.9" stroke-width="0.5"/>
<circle cx="609.85" cy="224.97" r="2.85" fill="#d99e95" fill-opacity="0.6" stroke="#d99e95" stroke-opacity="0.9" stroke-width="0.5"/>
<circle cx="613.54" cy="223.62" r="2.85" fill="#d99e95" fill-opacity="0.6" stroke="#d99e95" stroke-opacity="0.9" stroke-width="0.5"/>
<circle cx="616.96" cy="222.37" r="2.85" fill="#d99e95" fill-opacity="0.6" stroke="#d99e95" stroke-opacity="0.9" stroke-width="0.5"/>
<circle cx="620.14" cy="221.20" r="2.85" fill="#d99e95" fill-opacity="0.6" stroke="#d99e95" stroke-opacity="0.9" stroke-width="0.5"/>
<circle cx="623.11" cy="220.12" r="2.85" fill="#d99e95" fill-opacity="0.6" stroke="#d99e95" stroke-opacity="0.9" stroke-width="0.5"/>
<circle cx="625.90" cy="219.10" r="2.85" fill="#d99e95" fill-opacity="0.6" stroke="#d99e95" stroke-opacity="0.9" stroke-width="0.5"/>
<circle cx="628.52" cy="218.13" r="2.85" fill="#d99e95" fill-opacity="0.6" stroke="#d99e95" stroke-opacity="0.9" stroke-width="0.5"/>
<circle cx="631.01" cy="217.23" r="2.85" fill="#d99e95" fill-opacity="0.6" stroke="#d99e95" stroke-opacity="0.9" stroke-width="0.5"/>
<circle cx="633.36" cy="216.36" r="2.85" fill="#d99e95" fill-opacity="0.6" stroke="#d99e95" stroke-opacity="0.9" stroke-width="0.5"/>
<circle cx="635.60" cy="215.55" r="2.85" fill="#d99e95" fill-opacity="0.6" stroke="#d99e95" stroke-opacity="0.9" stroke-width="0.5"/>
<circle cx="637.73" cy="214.77" r="2.85" fill="#d99e95" fill-opacity="0.6" stroke="#d99e95" stroke-opacity="0.9" stroke-width="0.5"/>
<circle cx="639.77" cy="214.02" r="2.85" fill="#d99e95" fill-opacity="0.6" stroke="#d99e95" stroke-opacity="0.9" stroke-width="0.5"/>
<circle cx="641.72" cy="213.31" r="2.85" fill="#d99e95" fill-opacity="0.6" stroke="#d99e95" stroke-opacity="0.9" stroke-width="0.5"/>
<circle cx="643.59" cy="212.62" r="2.85" fill="#d99e95" fill-opacity="0.6" stroke="#d99e95" stroke-opacity="0.9" stroke-width="0.5"/>
<circle cx="645.38" cy="211.96" r="2.85" fill="#d99e95" fill-opacity="0.6" stroke="#d99e95" stroke-opacity="0.9" stroke-width="0.5"/>
<circle cx="647.11" cy="211.33" r="2.85" fill="#d99e95" fill-opacity="0.6" stroke="#d99e95" stroke-opacity="0.9" stroke-width="0.5"/>
<circle cx="506.01" cy="268.08" r="2.75" fill="#85878b" fill-opacity="0.65" stroke="#85878b" stroke-opacity="0.9" stroke-width="0.5"/>
<circle cx="533.55" cy="262.61" r="2.75" fill="#85878b" fill-opacity="0.65" stroke="#85878b" stroke-opacity="0.9" stroke-width="0.5"/>
<circle cx="550.57" cy="259.25" r="2.75" fill="#85878b" fill-opacity="0.65" stroke="#85878b" stroke-opacity="0.9" stroke-width="0.5"/>
<circle cx="562.92" cy="253.34" r="2.75" fill="#85878b" fill-opacity="0.65" stroke="#85878b" stroke-opacity="0.9" stroke-width="0.5"/>
<circle cx="572.62" cy="251.14" r="2.75" fill="#85878b" fill-opacity="0.65" stroke="#85878b" stroke-opacity="0.9" stroke-width="0.5"/>
<circle cx="580.61" cy="249.15" r="2.75" fill="#85878b" fill-opacity="0.65" stroke="#85878b" stroke-opacity="0.9" stroke-width="0.5"/>
<circle cx="587.41" cy="246.04" r="2.75" fill="#85878b" fill-opacity="0.65" stroke="#85878b" stroke-opacity="0.9" stroke-width="0.5"/>
<circle cx="593.31" cy="244.32" r="2.75" fill="#85878b" fill-opacity="0.65" stroke="#85878b" stroke-opacity="0.9" stroke-width="0.5"/>
<circle cx="598.54" cy="243.23" r="2.75" fill="#85878b" fill-opacity="0.65" stroke="#85878b" stroke-opacity="0.9" stroke-width="0.5"/>
<circle cx="603.23" cy="242.26" r="2.75" fill="#85878b" fill-opacity="0.65" stroke="#85878b" stroke-opacity="0.9" stroke-width="0.5"/>
<circle cx="607.48" cy="241.38" r="2.75" fill="#85878b" fill-opacity="0.65" stroke="#85878b" stroke-opacity="0.9" stroke-width="0.5"/>
<circle cx="611.36" cy="240.58" r="2.75" fill="#85878b" fill-opacity="0.65" stroke="#85878b" stroke-opacity="0.9" stroke-width="0.5"/>
<circle cx="614.94" cy="239.84" r="2.75" fill="#85878b" fill-opacity="0.65" stroke="#85878b" stroke-opacity="0.9" stroke-width="0.5"/>
<circle cx="618.26" cy="239.15" r="2.75" fill="#85878b" fill-opacity="0.65" stroke="#85878b" stroke-opacity="0.9" stroke-width="0.5"/>
<circle cx="621.35" cy="238.51" r="2.75" fill="#85878b" fill-opacity="0.65" stroke="#85878b" stroke-opacity="0.9" stroke-width="0.5"/>
<circle cx="624.24" cy="237.91" r="2.75" fill="#85878b" fill-opacity="0.65" stroke="#85878b" stroke-opacity="0.9" stroke-width="0.5"/>
<circle cx="626.97" cy="237.35" r="2.75" fill="#85878b" fill-opacity="0.65" stroke="#85878b" stroke-opacity="0.9" stroke-width="0.5"/>
<circle cx="629.53" cy="236.81" r="2.75" fill="#85878b" fill-opacity="0.65" stroke="#85878b" stroke-opacity="0.9" stroke-width="0.5"/>
<circle cx="509.20" cy="192.50" r="2.1" fill="#8a8c92" />
<circle cx="509.20" cy="207.80" r="2.1" fill="#dca59c" />
<text transform="translate(515.60,194.70) scale(1.0,1)" font-size="8.32" text-anchor="start" font-weight="normal" font-style="normal" fill="#333" ><tspan font-style="italic">ρ</tspan> &lt; <tspan font-style="italic">ρ</tspan><tspan font-size="5.5" dy="1.8">th</tspan><tspan dy="-1.8"></tspan></text>
<text transform="translate(515.60,210.00) scale(1.0,1)" font-size="8.32" text-anchor="start" font-weight="normal" font-style="normal" fill="#333" ><tspan font-style="italic">ρ</tspan> &gt; <tspan font-style="italic">ρ</tspan><tspan font-size="5.5" dy="1.8">th</tspan><tspan dy="-1.8"></tspan></text>
<text transform="translate(584.30,198.40) scale(0.95,1)" font-size="7.90" text-anchor="start" font-weight="normal" font-style="normal" fill="#333" >~|<tspan font-style="italic">ρ</tspan> − <tspan font-style="italic">ρ</tspan><tspan font-size="5" dy="1.8">th</tspan><tspan dy="-1.8">|</tspan><tspan font-size="5" dy="-3.5">2</tspan></text>
<text transform="translate(648.30,261.00) scale(0.95,1)" font-size="7.90" text-anchor="start" font-weight="normal" font-style="normal" fill="#333" >~|<tspan font-style="italic">ρ</tspan> − <tspan font-style="italic">ρ</tspan><tspan font-size="5" dy="1.8">th</tspan><tspan dy="-1.8">|</tspan><tspan font-size="5" dy="-3.5">1</tspan></text>
<text transform="translate(-0.70,337.10) scale(1.1,1)" font-size="10.20" text-anchor="start" font-weight="bold" font-style="normal" fill="#111" stroke="#111" stroke-width="0.3">l</text>
<text transform="translate(35.60,337.20) scale(0.95,1)" font-size="8.32" text-anchor="start" font-weight="normal" font-style="normal" fill="#222" >Tropical tree</text>
<text transform="translate(205.30,337.20) scale(0.95,1)" font-size="8.32" text-anchor="end" font-weight="normal" font-style="normal" fill="#222" >Threshold: <tspan font-style="italic">ρ</tspan><tspan font-size="5.6" dy="2.3">th</tspan><tspan dy="-2.3"> ≈ 0.52</tspan></text>
<line x1="35.10" y1="340.30" x2="35.10" y2="456.40" stroke="#b8b8b8" stroke-width="1" />
<line x1="35.10" y1="452.04" x2="37.70" y2="452.04" stroke="#777" stroke-width="0.7" />
<line x1="35.10" y1="448.94" x2="37.70" y2="448.94" stroke="#777" stroke-width="0.7" />
<line x1="35.10" y1="446.53" x2="37.70" y2="446.53" stroke="#777" stroke-width="0.7" />
<line x1="35.10" y1="444.56" x2="37.70" y2="444.56" stroke="#777" stroke-width="0.7" />
<line x1="35.10" y1="442.90" x2="37.70" y2="442.90" stroke="#777" stroke-width="0.7" />
<line x1="35.10" y1="441.46" x2="37.70" y2="441.46" stroke="#777" stroke-width="0.7" />
<line x1="35.10" y1="440.19" x2="37.70" y2="440.19" stroke="#777" stroke-width="0.7" />
<line x1="35.10" y1="439.05" x2="39.60" y2="439.05" stroke="#777" stroke-width="0.7" />
<line x1="35.10" y1="431.57" x2="37.70" y2="431.57" stroke="#777" stroke-width="0.7" />
<line x1="35.10" y1="427.19" x2="37.70" y2="427.19" stroke="#777" stroke-width="0.7" />
<line x1="35.10" y1="424.09" x2="37.70" y2="424.09" stroke="#777" stroke-width="0.7" />
<line x1="35.10" y1="421.68" x2="37.70" y2="421.68" stroke="#777" stroke-width="0.7" />
<line x1="35.10" y1="419.71" x2="37.70" y2="419.71" stroke="#777" stroke-width="0.7" />
<line x1="35.10" y1="418.05" x2="37.70" y2="418.05" stroke="#777" stroke-width="0.7" />
<line x1="35.10" y1="416.61" x2="37.70" y2="416.61" stroke="#777" stroke-width="0.7" />
<line x1="35.10" y1="415.34" x2="37.70" y2="415.34" stroke="#777" stroke-width="0.7" />
<line x1="35.10" y1="414.20" x2="39.60" y2="414.20" stroke="#777" stroke-width="0.7" />
<line x1="35.10" y1="406.72" x2="37.70" y2="406.72" stroke="#777" stroke-width="0.7" />
<line x1="35.10" y1="402.34" x2="37.70" y2="402.34" stroke="#777" stroke-width="0.7" />
<line x1="35.10" y1="399.24" x2="37.70" y2="399.24" stroke="#777" stroke-width="0.7" />
<line x1="35.10" y1="396.83" x2="37.70" y2="396.83" stroke="#777" stroke-width="0.7" />
<line x1="35.10" y1="394.86" x2="37.70" y2="394.86" stroke="#777" stroke-width="0.7" />
<line x1="35.10" y1="393.20" x2="37.70" y2="393.20" stroke="#777" stroke-width="0.7" />
<line x1="35.10" y1="391.76" x2="37.70" y2="391.76" stroke="#777" stroke-width="0.7" />
<line x1="35.10" y1="390.49" x2="37.70" y2="390.49" stroke="#777" stroke-width="0.7" />
<line x1="35.10" y1="389.35" x2="39.60" y2="389.35" stroke="#777" stroke-width="0.7" />
<line x1="35.10" y1="381.87" x2="37.70" y2="381.87" stroke="#777" stroke-width="0.7" />
<line x1="35.10" y1="377.49" x2="37.70" y2="377.49" stroke="#777" stroke-width="0.7" />
<line x1="35.10" y1="374.39" x2="37.70" y2="374.39" stroke="#777" stroke-width="0.7" />
<line x1="35.10" y1="371.98" x2="37.70" y2="371.98" stroke="#777" stroke-width="0.7" />
<line x1="35.10" y1="370.01" x2="37.70" y2="370.01" stroke="#777" stroke-width="0.7" />
<line x1="35.10" y1="368.35" x2="37.70" y2="368.35" stroke="#777" stroke-width="0.7" />
<line x1="35.10" y1="366.91" x2="37.70" y2="366.91" stroke="#777" stroke-width="0.7" />
<line x1="35.10" y1="365.64" x2="37.70" y2="365.64" stroke="#777" stroke-width="0.7" />
<line x1="35.10" y1="364.50" x2="39.60" y2="364.50" stroke="#777" stroke-width="0.7" />
<line x1="35.10" y1="357.02" x2="37.70" y2="357.02" stroke="#777" stroke-width="0.7" />
<line x1="35.10" y1="352.64" x2="37.70" y2="352.64" stroke="#777" stroke-width="0.7" />
<line x1="35.10" y1="349.54" x2="37.70" y2="349.54" stroke="#777" stroke-width="0.7" />
<line x1="35.10" y1="347.13" x2="37.70" y2="347.13" stroke="#777" stroke-width="0.7" />
<line x1="35.10" y1="345.16" x2="37.70" y2="345.16" stroke="#777" stroke-width="0.7" />
<line x1="35.10" y1="343.50" x2="37.70" y2="343.50" stroke="#777" stroke-width="0.7" />
<line x1="35.10" y1="342.06" x2="37.70" y2="342.06" stroke="#777" stroke-width="0.7" />
<line x1="35.10" y1="340.79" x2="37.70" y2="340.79" stroke="#777" stroke-width="0.7" />
<line x1="35.10" y1="456.40" x2="222.00" y2="456.40" stroke="#7a7a7a" stroke-width="1" />
<line x1="42.81" y1="456.40" x2="42.81" y2="453.80" stroke="#777" stroke-width="0.7" />
<line x1="55.88" y1="456.40" x2="55.88" y2="453.80" stroke="#777" stroke-width="0.7" />
<line x1="66.02" y1="456.40" x2="66.02" y2="453.80" stroke="#777" stroke-width="0.7" />
<line x1="74.30" y1="456.40" x2="74.30" y2="453.80" stroke="#777" stroke-width="0.7" />
<line x1="81.30" y1="456.40" x2="81.30" y2="453.80" stroke="#777" stroke-width="0.7" />
<line x1="87.37" y1="456.40" x2="87.37" y2="453.80" stroke="#777" stroke-width="0.7" />
<line x1="92.72" y1="456.40" x2="92.72" y2="453.80" stroke="#777" stroke-width="0.7" />
<line x1="97.50" y1="456.40" x2="97.50" y2="451.90" stroke="#777" stroke-width="0.7" />
<line x1="128.99" y1="456.40" x2="128.99" y2="453.80" stroke="#777" stroke-width="0.7" />
<line x1="147.41" y1="456.40" x2="147.41" y2="453.80" stroke="#777" stroke-width="0.7" />
<line x1="160.48" y1="456.40" x2="160.48" y2="453.80" stroke="#777" stroke-width="0.7" />
<line x1="170.62" y1="456.40" x2="170.62" y2="453.80" stroke="#777" stroke-width="0.7" />
<line x1="178.90" y1="456.40" x2="178.90" y2="453.80" stroke="#777" stroke-width="0.7" />
<line x1="185.90" y1="456.40" x2="185.90" y2="453.80" stroke="#777" stroke-width="0.7" />
<line x1="191.97" y1="456.40" x2="191.97" y2="453.80" stroke="#777" stroke-width="0.7" />
<line x1="197.32" y1="456.40" x2="197.32" y2="453.80" stroke="#777" stroke-width="0.7" />
<line x1="202.10" y1="456.40" x2="202.10" y2="451.90" stroke="#777" stroke-width="0.7" />
<text transform="translate(28.10,367.50) scale(0.95,1)" font-size="7.90" text-anchor="end" font-weight="normal" font-style="normal" fill="#333" >10</text>
<text transform="translate(28.50,363.30) scale(0.95,1)" font-size="5.20" text-anchor="start" font-weight="normal" font-style="normal" fill="#333" >1</text>
<text transform="translate(24.50,443.05) scale(0.95,1)" font-size="7.90" text-anchor="end" font-weight="normal" font-style="normal" fill="#333" >10</text>
<text transform="translate(24.70,438.65) scale(0.95,1)" font-size="5.20" text-anchor="start" font-weight="normal" font-style="normal" fill="#333" >−2</text>
<text transform="translate(90.10,468.40) scale(0.95,1)" font-size="7.90" text-anchor="start" font-weight="normal" font-style="normal" fill="#333" >10</text>
<text transform="translate(98.70,464.40) scale(0.95,1)" font-size="5.20" text-anchor="start" font-weight="normal" font-style="normal" fill="#333" >−1</text>
<text transform="translate(196.50,468.40) scale(0.95,1)" font-size="7.90" text-anchor="start" font-weight="normal" font-style="normal" fill="#333" >10</text>
<text transform="translate(204.90,464.40) scale(0.95,1)" font-size="5.20" text-anchor="start" font-weight="normal" font-style="normal" fill="#333" >0</text>
<text transform="translate(116.40,478.90) scale(0.95,1)" font-size="7.90" text-anchor="start" font-weight="normal" font-style="normal" fill="#333" >|<tspan font-style="italic">ρ</tspan> − <tspan font-style="italic">ρ</tspan><tspan font-size="5" dy="1.6">th</tspan><tspan dy="-1.6">|</tspan></text>
<text transform="translate(11.3,398.0) rotate(-90)" font-size="8.6" text-anchor="middle" fill="#333">|∫<tspan font-size="4.2" dy="2.2" font-style="italic">ρ</tspan><tspan font-size="4.2" dx="-2.2" dy="-6.6" font-style="italic">ρ</tspan><tspan font-size="3.2" dy="0.8">th</tspan><tspan dy="3.6"> Ω(</tspan><tspan font-style="italic">ρ</tspan>)d<tspan font-style="italic">ρ</tspan>|</text>
<g clip-path="url(#cl01)">
<line x1="35.10" y1="433.20" x2="221.90" y2="389.50" stroke="#7e8084" stroke-width="4.6" stroke-opacity="1"/>
<line x1="35.10" y1="451.10" x2="221.90" y2="363.40" stroke="#f9b27a" stroke-width="8.0" stroke-opacity="0.88"/>
</g>
<circle cx="42.81" cy="420.04" r="2.95" fill="#f9ae74" fill-opacity="0.7" stroke="#f9ae74" stroke-opacity="0.9" stroke-width="0.5"/>
<circle cx="87.37" cy="411.29" r="2.95" fill="#f9ae74" fill-opacity="0.7" stroke="#f9ae74" stroke-opacity="0.9" stroke-width="0.5"/>
<circle cx="109.42" cy="409.29" r="2.95" fill="#f9ae74" fill-opacity="0.7" stroke="#f9ae74" stroke-opacity="0.9" stroke-width="0.5"/>
<circle cx="124.21" cy="405.38" r="2.95" fill="#f9ae74" fill-opacity="0.7" stroke="#f9ae74" stroke-opacity="0.9" stroke-width="0.5"/>
<circle cx="135.34" cy="401.82" r="2.95" fill="#f9ae74" fill-opacity="0.7" stroke="#f9ae74" stroke-opacity="0.9" stroke-width="0.5"/>
<circle cx="144.28" cy="399.35" r="2.95" fill="#f9ae74" fill-opacity="0.7" stroke="#f9ae74" stroke-opacity="0.9" stroke-width="0.5"/>
<circle cx="151.74" cy="397.07" r="2.95" fill="#f9ae74" fill-opacity="0.7" stroke="#f9ae74" stroke-opacity="0.9" stroke-width="0.5"/>
<circle cx="158.15" cy="394.32" r="2.95" fill="#f9ae74" fill-opacity="0.7" stroke="#f9ae74" stroke-opacity="0.9" stroke-width="0.5"/>
<circle cx="163.77" cy="392.26" r="2.95" fill="#f9ae74" fill-opacity="0.7" stroke="#f9ae74" stroke-opacity="0.9" stroke-width="0.5"/>
<circle cx="168.76" cy="390.43" r="2.95" fill="#f9ae74" fill-opacity="0.7" stroke="#f9ae74" stroke-opacity="0.9" stroke-width="0.5"/>
<circle cx="173.26" cy="388.78" r="2.95" fill="#f9ae74" fill-opacity="0.7" stroke="#f9ae74" stroke-opacity="0.9" stroke-width="0.5"/>
<circle cx="177.36" cy="387.28" r="2.95" fill="#f9ae74" fill-opacity="0.7" stroke="#f9ae74" stroke-opacity="0.9" stroke-width="0.5"/>
<circle cx="181.12" cy="385.90" r="2.95" fill="#f9ae74" fill-opacity="0.7" stroke="#f9ae74" stroke-opacity="0.9" stroke-width="0.5"/>
<circle cx="184.58" cy="384.63" r="2.95" fill="#f9ae74" fill-opacity="0.7" stroke="#f9ae74" stroke-opacity="0.9" stroke-width="0.5"/>
<circle cx="187.81" cy="383.45" r="2.95" fill="#f9ae74" fill-opacity="0.7" stroke="#f9ae74" stroke-opacity="0.9" stroke-width="0.5"/>
<circle cx="190.82" cy="382.35" r="2.95" fill="#f9ae74" fill-opacity="0.7" stroke="#f9ae74" stroke-opacity="0.9" stroke-width="0.5"/>
<circle cx="193.64" cy="381.31" r="2.95" fill="#f9ae74" fill-opacity="0.7" stroke="#f9ae74" stroke-opacity="0.9" stroke-width="0.5"/>
<circle cx="196.30" cy="380.34" r="2.95" fill="#f9ae74" fill-opacity="0.7" stroke="#f9ae74" stroke-opacity="0.9" stroke-width="0.5"/>
<circle cx="198.81" cy="379.42" r="2.95" fill="#f9ae74" fill-opacity="0.7" stroke="#f9ae74" stroke-opacity="0.9" stroke-width="0.5"/>
<circle cx="81.30" cy="418.83" r="2.75" fill="#7f8185" fill-opacity="0.7" stroke="#7f8185" stroke-opacity="0.9" stroke-width="0.5"/>
<circle cx="105.79" cy="416.70" r="2.75" fill="#7f8185" fill-opacity="0.7" stroke="#7f8185" stroke-opacity="0.9" stroke-width="0.5"/>
<circle cx="121.61" cy="416.70" r="2.75" fill="#7f8185" fill-opacity="0.7" stroke="#7f8185" stroke-opacity="0.9" stroke-width="0.5"/>
<circle cx="133.32" cy="409.36" r="2.75" fill="#7f8185" fill-opacity="0.7" stroke="#7f8185" stroke-opacity="0.9" stroke-width="0.5"/>
<circle cx="142.63" cy="408.27" r="2.75" fill="#7f8185" fill-opacity="0.7" stroke="#7f8185" stroke-opacity="0.9" stroke-width="0.5"/>
<circle cx="150.34" cy="406.36" r="2.75" fill="#7f8185" fill-opacity="0.7" stroke="#7f8185" stroke-opacity="0.9" stroke-width="0.5"/>
<circle cx="46.00" cy="353.50" r="2.1" fill="#8a8c92" />
<circle cx="46.00" cy="368.80" r="2.1" fill="#f9b27a" />
<text transform="translate(52.40,355.70) scale(1.0,1)" font-size="8.32" text-anchor="start" font-weight="normal" font-style="normal" fill="#333" ><tspan font-style="italic">ρ</tspan> &lt; <tspan font-style="italic">ρ</tspan><tspan font-size="5.5" dy="1.8">th</tspan><tspan dy="-1.8"></tspan></text>
<text transform="translate(52.40,371.00) scale(1.0,1)" font-size="8.32" text-anchor="start" font-weight="normal" font-style="normal" fill="#333" ><tspan font-style="italic">ρ</tspan> &gt; <tspan font-style="italic">ρ</tspan><tspan font-size="5.5" dy="1.8">th</tspan><tspan dy="-1.8"></tspan></text>
<text transform="translate(142.10,368.00) scale(0.95,1)" font-size="7.90" text-anchor="start" font-weight="normal" font-style="normal" fill="#333" >~|<tspan font-style="italic">ρ</tspan> − <tspan font-style="italic">ρ</tspan><tspan font-size="5" dy="1.8">th</tspan><tspan dy="-1.8">|</tspan><tspan font-size="5" dy="-3.5">2</tspan></text>
<text transform="translate(185.40,428.00) scale(0.95,1)" font-size="7.90" text-anchor="start" font-weight="normal" font-style="normal" fill="#333" >~|<tspan font-style="italic">ρ</tspan> − <tspan font-style="italic">ρ</tspan><tspan font-size="5" dy="1.8">th</tspan><tspan dy="-1.8">|</tspan><tspan font-size="5" dy="-3.5">1</tspan></text>
<text transform="translate(232.30,337.10) scale(1.1,1)" font-size="10.20" text-anchor="start" font-weight="bold" font-style="normal" fill="#111" stroke="#111" stroke-width="0.3">m</text>
<text transform="translate(267.90,337.20) scale(0.95,1)" font-size="8.32" text-anchor="start" font-weight="normal" font-style="normal" fill="#222" >Coral</text>
<text transform="translate(445.10,337.20) scale(0.95,1)" font-size="8.32" text-anchor="end" font-weight="normal" font-style="normal" fill="#222" >Threshold: <tspan font-style="italic">ρ</tspan><tspan font-size="5.6" dy="2.3">th</tspan><tspan dy="-2.3"> ≈ 0.92</tspan></text>
<line x1="267.40" y1="340.30" x2="267.40" y2="456.40" stroke="#b8b8b8" stroke-width="1" />
<line x1="267.40" y1="452.04" x2="270.00" y2="452.04" stroke="#777" stroke-width="0.7" />
<line x1="267.40" y1="448.94" x2="270.00" y2="448.94" stroke="#777" stroke-width="0.7" />
<line x1="267.40" y1="446.53" x2="270.00" y2="446.53" stroke="#777" stroke-width="0.7" />
<line x1="267.40" y1="444.56" x2="270.00" y2="444.56" stroke="#777" stroke-width="0.7" />
<line x1="267.40" y1="442.90" x2="270.00" y2="442.90" stroke="#777" stroke-width="0.7" />
<line x1="267.40" y1="441.46" x2="270.00" y2="441.46" stroke="#777" stroke-width="0.7" />
<line x1="267.40" y1="440.19" x2="270.00" y2="440.19" stroke="#777" stroke-width="0.7" />
<line x1="267.40" y1="439.05" x2="271.90" y2="439.05" stroke="#777" stroke-width="0.7" />
<line x1="267.40" y1="431.57" x2="270.00" y2="431.57" stroke="#777" stroke-width="0.7" />
<line x1="267.40" y1="427.19" x2="270.00" y2="427.19" stroke="#777" stroke-width="0.7" />
<line x1="267.40" y1="424.09" x2="270.00" y2="424.09" stroke="#777" stroke-width="0.7" />
<line x1="267.40" y1="421.68" x2="270.00" y2="421.68" stroke="#777" stroke-width="0.7" />
<line x1="267.40" y1="419.71" x2="270.00" y2="419.71" stroke="#777" stroke-width="0.7" />
<line x1="267.40" y1="418.05" x2="270.00" y2="418.05" stroke="#777" stroke-width="0.7" />
<line x1="267.40" y1="416.61" x2="270.00" y2="416.61" stroke="#777" stroke-width="0.7" />
<line x1="267.40" y1="415.34" x2="270.00" y2="415.34" stroke="#777" stroke-width="0.7" />
<line x1="267.40" y1="414.20" x2="271.90" y2="414.20" stroke="#777" stroke-width="0.7" />
<line x1="267.40" y1="406.72" x2="270.00" y2="406.72" stroke="#777" stroke-width="0.7" />
<line x1="267.40" y1="402.34" x2="270.00" y2="402.34" stroke="#777" stroke-width="0.7" />
<line x1="267.40" y1="399.24" x2="270.00" y2="399.24" stroke="#777" stroke-width="0.7" />
<line x1="267.40" y1="396.83" x2="270.00" y2="396.83" stroke="#777" stroke-width="0.7" />
<line x1="267.40" y1="394.86" x2="270.00" y2="394.86" stroke="#777" stroke-width="0.7" />
<line x1="267.40" y1="393.20" x2="270.00" y2="393.20" stroke="#777" stroke-width="0.7" />
<line x1="267.40" y1="391.76" x2="270.00" y2="391.76" stroke="#777" stroke-width="0.7" />
<line x1="267.40" y1="390.49" x2="270.00" y2="390.49" stroke="#777" stroke-width="0.7" />
<line x1="267.40" y1="389.35" x2="271.90" y2="389.35" stroke="#777" stroke-width="0.7" />
<line x1="267.40" y1="381.87" x2="270.00" y2="381.87" stroke="#777" stroke-width="0.7" />
<line x1="267.40" y1="377.49" x2="270.00" y2="377.49" stroke="#777" stroke-width="0.7" />
<line x1="267.40" y1="374.39" x2="270.00" y2="374.39" stroke="#777" stroke-width="0.7" />
<line x1="267.40" y1="371.98" x2="270.00" y2="371.98" stroke="#777" stroke-width="0.7" />
<line x1="267.40" y1="370.01" x2="270.00" y2="370.01" stroke="#777" stroke-width="0.7" />
<line x1="267.40" y1="368.35" x2="270.00" y2="368.35" stroke="#777" stroke-width="0.7" />
<line x1="267.40" y1="366.91" x2="270.00" y2="366.91" stroke="#777" stroke-width="0.7" />
<line x1="267.40" y1="365.64" x2="270.00" y2="365.64" stroke="#777" stroke-width="0.7" />
<line x1="267.40" y1="364.50" x2="271.90" y2="364.50" stroke="#777" stroke-width="0.7" />
<line x1="267.40" y1="357.02" x2="270.00" y2="357.02" stroke="#777" stroke-width="0.7" />
<line x1="267.40" y1="352.64" x2="270.00" y2="352.64" stroke="#777" stroke-width="0.7" />
<line x1="267.40" y1="349.54" x2="270.00" y2="349.54" stroke="#777" stroke-width="0.7" />
<line x1="267.40" y1="347.13" x2="270.00" y2="347.13" stroke="#777" stroke-width="0.7" />
<line x1="267.40" y1="345.16" x2="270.00" y2="345.16" stroke="#777" stroke-width="0.7" />
<line x1="267.40" y1="343.50" x2="270.00" y2="343.50" stroke="#777" stroke-width="0.7" />
<line x1="267.40" y1="342.06" x2="270.00" y2="342.06" stroke="#777" stroke-width="0.7" />
<line x1="267.40" y1="340.79" x2="270.00" y2="340.79" stroke="#777" stroke-width="0.7" />
<line x1="267.40" y1="456.40" x2="454.30" y2="456.40" stroke="#7a7a7a" stroke-width="1" />
<line x1="275.11" y1="456.40" x2="275.11" y2="453.80" stroke="#777" stroke-width="0.7" />
<line x1="288.18" y1="456.40" x2="288.18" y2="453.80" stroke="#777" stroke-width="0.7" />
<line x1="298.32" y1="456.40" x2="298.32" y2="453.80" stroke="#777" stroke-width="0.7" />
<line x1="306.60" y1="456.40" x2="306.60" y2="453.80" stroke="#777" stroke-width="0.7" />
<line x1="313.60" y1="456.40" x2="313.60" y2="453.80" stroke="#777" stroke-width="0.7" />
<line x1="319.67" y1="456.40" x2="319.67" y2="453.80" stroke="#777" stroke-width="0.7" />
<line x1="325.02" y1="456.40" x2="325.02" y2="453.80" stroke="#777" stroke-width="0.7" />
<line x1="329.80" y1="456.40" x2="329.80" y2="451.90" stroke="#777" stroke-width="0.7" />
<line x1="361.29" y1="456.40" x2="361.29" y2="453.80" stroke="#777" stroke-width="0.7" />
<line x1="379.71" y1="456.40" x2="379.71" y2="453.80" stroke="#777" stroke-width="0.7" />
<line x1="392.78" y1="456.40" x2="392.78" y2="453.80" stroke="#777" stroke-width="0.7" />
<line x1="402.92" y1="456.40" x2="402.92" y2="453.80" stroke="#777" stroke-width="0.7" />
<line x1="411.20" y1="456.40" x2="411.20" y2="453.80" stroke="#777" stroke-width="0.7" />
<line x1="418.20" y1="456.40" x2="418.20" y2="453.80" stroke="#777" stroke-width="0.7" />
<line x1="424.27" y1="456.40" x2="424.27" y2="453.80" stroke="#777" stroke-width="0.7" />
<line x1="429.62" y1="456.40" x2="429.62" y2="453.80" stroke="#777" stroke-width="0.7" />
<line x1="434.40" y1="456.40" x2="434.40" y2="451.90" stroke="#777" stroke-width="0.7" />
<text transform="translate(260.40,367.50) scale(0.95,1)" font-size="7.90" text-anchor="end" font-weight="normal" font-style="normal" fill="#333" >10</text>
<text transform="translate(260.80,363.30) scale(0.95,1)" font-size="5.20" text-anchor="start" font-weight="normal" font-style="normal" fill="#333" >1</text>
<text transform="translate(256.80,443.05) scale(0.95,1)" font-size="7.90" text-anchor="end" font-weight="normal" font-style="normal" fill="#333" >10</text>
<text transform="translate(257.00,438.65) scale(0.95,1)" font-size="5.20" text-anchor="start" font-weight="normal" font-style="normal" fill="#333" >−2</text>
<text transform="translate(322.40,468.40) scale(0.95,1)" font-size="7.90" text-anchor="start" font-weight="normal" font-style="normal" fill="#333" >10</text>
<text transform="translate(331.00,464.40) scale(0.95,1)" font-size="5.20" text-anchor="start" font-weight="normal" font-style="normal" fill="#333" >−1</text>
<text transform="translate(428.80,468.40) scale(0.95,1)" font-size="7.90" text-anchor="start" font-weight="normal" font-style="normal" fill="#333" >10</text>
<text transform="translate(437.20,464.40) scale(0.95,1)" font-size="5.20" text-anchor="start" font-weight="normal" font-style="normal" fill="#333" >0</text>
<text transform="translate(348.70,478.90) scale(0.95,1)" font-size="7.90" text-anchor="start" font-weight="normal" font-style="normal" fill="#333" >|<tspan font-style="italic">ρ</tspan> − <tspan font-style="italic">ρ</tspan><tspan font-size="5" dy="1.6">th</tspan><tspan dy="-1.6">|</tspan></text>
<text transform="translate(243.6,398.0) rotate(-90)" font-size="8.6" text-anchor="middle" fill="#333">|∫<tspan font-size="4.2" dy="2.2" font-style="italic">ρ</tspan><tspan font-size="4.2" dx="-2.2" dy="-6.6" font-style="italic">ρ</tspan><tspan font-size="3.2" dy="0.8">th</tspan><tspan dy="3.6"> Ω(</tspan><tspan font-style="italic">ρ</tspan>)d<tspan font-style="italic">ρ</tspan>|</text>
<g clip-path="url(#cl11)">
<line x1="267.40" y1="436.20" x2="453.80" y2="348.80" stroke="#6e7fbb" stroke-width="4.0" stroke-opacity="1"/>
</g>
<circle cx="288.18" cy="419.77" r="2.75" fill="#6c6e72" fill-opacity="0.5" stroke="#6c6e72" stroke-opacity="0.8" stroke-width="0.5"/>
<circle cx="306.60" cy="413.13" r="2.75" fill="#6c6e72" fill-opacity="0.5" stroke="#6c6e72" stroke-opacity="0.8" stroke-width="0.5"/>
<circle cx="319.67" cy="407.61" r="2.75" fill="#6c6e72" fill-opacity="0.5" stroke="#6c6e72" stroke-opacity="0.8" stroke-width="0.5"/>
<circle cx="329.80" cy="405.18" r="2.75" fill="#6c6e72" fill-opacity="0.5" stroke="#6c6e72" stroke-opacity="0.8" stroke-width="0.5"/>
<circle cx="338.09" cy="402.63" r="2.75" fill="#6c6e72" fill-opacity="0.5" stroke="#6c6e72" stroke-opacity="0.8" stroke-width="0.5"/>
<circle cx="345.09" cy="400.47" r="2.75" fill="#6c6e72" fill-opacity="0.5" stroke="#6c6e72" stroke-opacity="0.8" stroke-width="0.5"/>
<circle cx="351.16" cy="398.65" r="2.75" fill="#6c6e72" fill-opacity="0.5" stroke="#6c6e72" stroke-opacity="0.8" stroke-width="0.5"/>
<circle cx="356.51" cy="397.05" r="2.75" fill="#6c6e72" fill-opacity="0.5" stroke="#6c6e72" stroke-opacity="0.8" stroke-width="0.5"/>
<circle cx="361.29" cy="395.61" r="2.75" fill="#6c6e72" fill-opacity="0.5" stroke="#6c6e72" stroke-opacity="0.8" stroke-width="0.5"/>
<circle cx="365.62" cy="394.31" r="2.75" fill="#6c6e72" fill-opacity="0.5" stroke="#6c6e72" stroke-opacity="0.8" stroke-width="0.5"/>
<circle cx="369.57" cy="393.13" r="2.75" fill="#6c6e72" fill-opacity="0.5" stroke="#6c6e72" stroke-opacity="0.8" stroke-width="0.5"/>
<circle cx="373.21" cy="392.04" r="2.75" fill="#6c6e72" fill-opacity="0.5" stroke="#6c6e72" stroke-opacity="0.8" stroke-width="0.5"/>
<circle cx="376.58" cy="391.03" r="2.75" fill="#6c6e72" fill-opacity="0.5" stroke="#6c6e72" stroke-opacity="0.8" stroke-width="0.5"/>
<circle cx="379.71" cy="390.09" r="2.75" fill="#6c6e72" fill-opacity="0.5" stroke="#6c6e72" stroke-opacity="0.8" stroke-width="0.5"/>
<circle cx="382.64" cy="389.60" r="2.75" fill="#6c6e72" fill-opacity="0.5" stroke="#6c6e72" stroke-opacity="0.8" stroke-width="0.5"/>
<circle cx="385.40" cy="389.19" r="2.75" fill="#6c6e72" fill-opacity="0.5" stroke="#6c6e72" stroke-opacity="0.8" stroke-width="0.5"/>
<circle cx="387.99" cy="388.80" r="2.75" fill="#6c6e72" fill-opacity="0.5" stroke="#6c6e72" stroke-opacity="0.8" stroke-width="0.5"/>
<circle cx="390.45" cy="388.43" r="2.75" fill="#6c6e72" fill-opacity="0.5" stroke="#6c6e72" stroke-opacity="0.8" stroke-width="0.5"/>
<circle cx="392.78" cy="388.08" r="2.75" fill="#6c6e72" fill-opacity="0.5" stroke="#6c6e72" stroke-opacity="0.8" stroke-width="0.5"/>
<circle cx="395.00" cy="387.75" r="2.75" fill="#6c6e72" fill-opacity="0.5" stroke="#6c6e72" stroke-opacity="0.8" stroke-width="0.5"/>
<circle cx="397.11" cy="387.43" r="2.75" fill="#6c6e72" fill-opacity="0.5" stroke="#6c6e72" stroke-opacity="0.8" stroke-width="0.5"/>
<circle cx="399.13" cy="387.13" r="2.75" fill="#6c6e72" fill-opacity="0.5" stroke="#6c6e72" stroke-opacity="0.8" stroke-width="0.5"/>
<circle cx="401.06" cy="386.88" r="2.75" fill="#6c6e72" fill-opacity="0.5" stroke="#6c6e72" stroke-opacity="0.8" stroke-width="0.5"/>
<circle cx="402.92" cy="386.67" r="2.75" fill="#6c6e72" fill-opacity="0.5" stroke="#6c6e72" stroke-opacity="0.8" stroke-width="0.5"/>
<circle cx="404.70" cy="386.47" r="2.75" fill="#6c6e72" fill-opacity="0.5" stroke="#6c6e72" stroke-opacity="0.8" stroke-width="0.5"/>
<circle cx="406.41" cy="386.28" r="2.75" fill="#6c6e72" fill-opacity="0.5" stroke="#6c6e72" stroke-opacity="0.8" stroke-width="0.5"/>
<circle cx="408.06" cy="386.09" r="2.75" fill="#6c6e72" fill-opacity="0.5" stroke="#6c6e72" stroke-opacity="0.8" stroke-width="0.5"/>
<circle cx="409.66" cy="385.91" r="2.75" fill="#6c6e72" fill-opacity="0.5" stroke="#6c6e72" stroke-opacity="0.8" stroke-width="0.5"/>
<circle cx="411.20" cy="385.74" r="2.75" fill="#6c6e72" fill-opacity="0.5" stroke="#6c6e72" stroke-opacity="0.8" stroke-width="0.5"/>
<circle cx="412.69" cy="385.57" r="2.75" fill="#6c6e72" fill-opacity="0.5" stroke="#6c6e72" stroke-opacity="0.8" stroke-width="0.5"/>
<circle cx="414.13" cy="385.41" r="2.75" fill="#6c6e72" fill-opacity="0.5" stroke="#6c6e72" stroke-opacity="0.8" stroke-width="0.5"/>
<circle cx="415.53" cy="385.25" r="2.75" fill="#6c6e72" fill-opacity="0.5" stroke="#6c6e72" stroke-opacity="0.8" stroke-width="0.5"/>
<circle cx="416.88" cy="385.10" r="2.75" fill="#6c6e72" fill-opacity="0.5" stroke="#6c6e72" stroke-opacity="0.8" stroke-width="0.5"/>
<circle cx="418.20" cy="384.95" r="2.75" fill="#6c6e72" fill-opacity="0.5" stroke="#6c6e72" stroke-opacity="0.8" stroke-width="0.5"/>
<circle cx="419.48" cy="384.80" r="2.75" fill="#6c6e72" fill-opacity="0.5" stroke="#6c6e72" stroke-opacity="0.8" stroke-width="0.5"/>
<circle cx="420.73" cy="384.66" r="2.75" fill="#6c6e72" fill-opacity="0.5" stroke="#6c6e72" stroke-opacity="0.8" stroke-width="0.5"/>
<circle cx="288.18" cy="415.26" r="2.95" fill="#7f90c8" fill-opacity="0.6" stroke="#7f90c8" stroke-opacity="0.9" stroke-width="0.5"/>
<circle cx="306.60" cy="405.84" r="2.95" fill="#7f90c8" fill-opacity="0.6" stroke="#7f90c8" stroke-opacity="0.9" stroke-width="0.5"/>
<circle cx="329.80" cy="402.62" r="2.95" fill="#7f90c8" fill-opacity="0.6" stroke="#7f90c8" stroke-opacity="0.9" stroke-width="0.5"/>
<circle cx="338.09" cy="401.01" r="2.95" fill="#7f90c8" fill-opacity="0.6" stroke="#7f90c8" stroke-opacity="0.9" stroke-width="0.5"/>
<circle cx="345.09" cy="398.96" r="2.95" fill="#7f90c8" fill-opacity="0.6" stroke="#7f90c8" stroke-opacity="0.9" stroke-width="0.5"/>
<circle cx="351.16" cy="396.52" r="2.95" fill="#7f90c8" fill-opacity="0.6" stroke="#7f90c8" stroke-opacity="0.9" stroke-width="0.5"/>
<circle cx="356.51" cy="394.20" r="2.95" fill="#7f90c8" fill-opacity="0.6" stroke="#7f90c8" stroke-opacity="0.9" stroke-width="0.5"/>
<circle cx="361.29" cy="392.32" r="2.95" fill="#7f90c8" fill-opacity="0.6" stroke="#7f90c8" stroke-opacity="0.9" stroke-width="0.5"/>
<circle cx="365.62" cy="390.84" r="2.95" fill="#7f90c8" fill-opacity="0.6" stroke="#7f90c8" stroke-opacity="0.9" stroke-width="0.5"/>
<circle cx="369.57" cy="389.51" r="2.95" fill="#7f90c8" fill-opacity="0.6" stroke="#7f90c8" stroke-opacity="0.9" stroke-width="0.5"/>
<circle cx="373.21" cy="388.29" r="2.95" fill="#7f90c8" fill-opacity="0.6" stroke="#7f90c8" stroke-opacity="0.9" stroke-width="0.5"/>
<circle cx="376.58" cy="387.15" r="2.95" fill="#7f90c8" fill-opacity="0.6" stroke="#7f90c8" stroke-opacity="0.9" stroke-width="0.5"/>
<circle cx="379.71" cy="386.10" r="2.95" fill="#7f90c8" fill-opacity="0.6" stroke="#7f90c8" stroke-opacity="0.9" stroke-width="0.5"/>
<circle cx="382.64" cy="384.94" r="2.95" fill="#7f90c8" fill-opacity="0.6" stroke="#7f90c8" stroke-opacity="0.9" stroke-width="0.5"/>
<circle cx="385.40" cy="383.84" r="2.95" fill="#7f90c8" fill-opacity="0.6" stroke="#7f90c8" stroke-opacity="0.9" stroke-width="0.5"/>
<circle cx="387.99" cy="382.80" r="2.95" fill="#7f90c8" fill-opacity="0.6" stroke="#7f90c8" stroke-opacity="0.9" stroke-width="0.5"/>
<circle cx="390.45" cy="381.82" r="2.95" fill="#7f90c8" fill-opacity="0.6" stroke="#7f90c8" stroke-opacity="0.9" stroke-width="0.5"/>
<circle cx="392.78" cy="380.89" r="2.95" fill="#7f90c8" fill-opacity="0.6" stroke="#7f90c8" stroke-opacity="0.9" stroke-width="0.5"/>
<circle cx="395.00" cy="380.00" r="2.95" fill="#7f90c8" fill-opacity="0.6" stroke="#7f90c8" stroke-opacity="0.9" stroke-width="0.5"/>
<circle cx="397.11" cy="379.20" r="2.95" fill="#7f90c8" fill-opacity="0.6" stroke="#7f90c8" stroke-opacity="0.9" stroke-width="0.5"/>
<circle cx="399.13" cy="378.43" r="2.95" fill="#7f90c8" fill-opacity="0.6" stroke="#7f90c8" stroke-opacity="0.9" stroke-width="0.5"/>
<circle cx="401.06" cy="377.70" r="2.95" fill="#7f90c8" fill-opacity="0.6" stroke="#7f90c8" stroke-opacity="0.9" stroke-width="0.5"/>
<circle cx="402.92" cy="377.00" r="2.95" fill="#7f90c8" fill-opacity="0.6" stroke="#7f90c8" stroke-opacity="0.9" stroke-width="0.5"/>
<circle cx="404.70" cy="376.32" r="2.95" fill="#7f90c8" fill-opacity="0.6" stroke="#7f90c8" stroke-opacity="0.9" stroke-width="0.5"/>
<circle cx="406.41" cy="375.67" r="2.95" fill="#7f90c8" fill-opacity="0.6" stroke="#7f90c8" stroke-opacity="0.9" stroke-width="0.5"/>
<circle cx="408.06" cy="375.05" r="2.95" fill="#7f90c8" fill-opacity="0.6" stroke="#7f90c8" stroke-opacity="0.9" stroke-width="0.5"/>
<circle cx="409.66" cy="374.44" r="2.95" fill="#7f90c8" fill-opacity="0.6" stroke="#7f90c8" stroke-opacity="0.9" stroke-width="0.5"/>
<circle cx="411.20" cy="373.86" r="2.95" fill="#7f90c8" fill-opacity="0.6" stroke="#7f90c8" stroke-opacity="0.9" stroke-width="0.5"/>
<g clip-path="url(#cl11)">
<line x1="267.40" y1="418.00" x2="453.60" y2="374.20" stroke="#6a6a6a" stroke-width="1.0" stroke-opacity="1"/>
</g>
<circle cx="278.30" cy="353.50" r="2.1" fill="#8a8c92" />
<circle cx="278.30" cy="368.80" r="2.1" fill="#8595cb" />
<text transform="translate(284.70,355.70) scale(1.0,1)" font-size="8.32" text-anchor="start" font-weight="normal" font-style="normal" fill="#333" ><tspan font-style="italic">ρ</tspan> &lt; <tspan font-style="italic">ρ</tspan><tspan font-size="5.5" dy="1.8">th</tspan><tspan dy="-1.8"></tspan></text>
<text transform="translate(284.70,371.00) scale(1.0,1)" font-size="8.32" text-anchor="start" font-weight="normal" font-style="normal" fill="#333" ><tspan font-style="italic">ρ</tspan> &gt; <tspan font-style="italic">ρ</tspan><tspan font-size="5.5" dy="1.8">th</tspan><tspan dy="-1.8"></tspan></text>
<text transform="translate(345.50,367.00) scale(0.95,1)" font-size="7.90" text-anchor="start" font-weight="normal" font-style="normal" fill="#333" >~|<tspan font-style="italic">ρ</tspan> − <tspan font-style="italic">ρ</tspan><tspan font-size="5" dy="1.8">th</tspan><tspan dy="-1.8">|</tspan><tspan font-size="5" dy="-3.5">2</tspan></text>
<text transform="translate(412.30,427.00) scale(0.95,1)" font-size="7.90" text-anchor="start" font-weight="normal" font-style="normal" fill="#333" >~|<tspan font-style="italic">ρ</tspan> − <tspan font-style="italic">ρ</tspan><tspan font-size="5" dy="1.8">th</tspan><tspan dy="-1.8">|</tspan><tspan font-size="5" dy="-3.5">1</tspan></text>
<text transform="translate(461.80,337.10) scale(1.1,1)" font-size="10.20" text-anchor="start" font-weight="bold" font-style="normal" fill="#111" stroke="#111" stroke-width="0.3">n</text>
<text transform="translate(498.80,337.20) scale(0.95,1)" font-size="8.32" text-anchor="start" font-weight="normal" font-style="normal" fill="#222" >Arabidopsis</text>
<text transform="translate(673.00,337.20) scale(0.95,1)" font-size="8.32" text-anchor="end" font-weight="normal" font-style="normal" fill="#222" >Threshold: <tspan font-style="italic">ρ</tspan><tspan font-size="5.6" dy="2.3">th</tspan><tspan dy="-2.3"> ≈ 0.73</tspan></text>
<line x1="498.30" y1="340.30" x2="498.30" y2="456.40" stroke="#b8b8b8" stroke-width="1" />
<line x1="498.30" y1="452.04" x2="500.90" y2="452.04" stroke="#777" stroke-width="0.7" />
<line x1="498.30" y1="448.94" x2="500.90" y2="448.94" stroke="#777" stroke-width="0.7" />
<line x1="498.30" y1="446.53" x2="500.90" y2="446.53" stroke="#777" stroke-width="0.7" />
<line x1="498.30" y1="444.56" x2="500.90" y2="444.56" stroke="#777" stroke-width="0.7" />
<line x1="498.30" y1="442.90" x2="500.90" y2="442.90" stroke="#777" stroke-width="0.7" />
<line x1="498.30" y1="441.46" x2="500.90" y2="441.46" stroke="#777" stroke-width="0.7" />
<line x1="498.30" y1="440.19" x2="500.90" y2="440.19" stroke="#777" stroke-width="0.7" />
<line x1="498.30" y1="439.05" x2="502.80" y2="439.05" stroke="#777" stroke-width="0.7" />
<line x1="498.30" y1="431.57" x2="500.90" y2="431.57" stroke="#777" stroke-width="0.7" />
<line x1="498.30" y1="427.19" x2="500.90" y2="427.19" stroke="#777" stroke-width="0.7" />
<line x1="498.30" y1="424.09" x2="500.90" y2="424.09" stroke="#777" stroke-width="0.7" />
<line x1="498.30" y1="421.68" x2="500.90" y2="421.68" stroke="#777" stroke-width="0.7" />
<line x1="498.30" y1="419.71" x2="500.90" y2="419.71" stroke="#777" stroke-width="0.7" />
<line x1="498.30" y1="418.05" x2="500.90" y2="418.05" stroke="#777" stroke-width="0.7" />
<line x1="498.30" y1="416.61" x2="500.90" y2="416.61" stroke="#777" stroke-width="0.7" />
<line x1="498.30" y1="415.34" x2="500.90" y2="415.34" stroke="#777" stroke-width="0.7" />
<line x1="498.30" y1="414.20" x2="502.80" y2="414.20" stroke="#777" stroke-width="0.7" />
<line x1="498.30" y1="406.72" x2="500.90" y2="406.72" stroke="#777" stroke-width="0.7" />
<line x1="498.30" y1="402.34" x2="500.90" y2="402.34" stroke="#777" stroke-width="0.7" />
<line x1="498.30" y1="399.24" x2="500.90" y2="399.24" stroke="#777" stroke-width="0.7" />
<line x1="498.30" y1="396.83" x2="500.90" y2="396.83" stroke="#777" stroke-width="0.7" />
<line x1="498.30" y1="394.86" x2="500.90" y2="394.86" stroke="#777" stroke-width="0.7" />
<line x1="498.30" y1="393.20" x2="500.90" y2="393.20" stroke="#777" stroke-width="0.7" />
<line x1="498.30" y1="391.76" x2="500.90" y2="391.76" stroke="#777" stroke-width="0.7" />
<line x1="498.30" y1="390.49" x2="500.90" y2="390.49" stroke="#777" stroke-width="0.7" />
<line x1="498.30" y1="389.35" x2="502.80" y2="389.35" stroke="#777" stroke-width="0.7" />
<line x1="498.30" y1="381.87" x2="500.90" y2="381.87" stroke="#777" stroke-width="0.7" />
<line x1="498.30" y1="377.49" x2="500.90" y2="377.49" stroke="#777" stroke-width="0.7" />
<line x1="498.30" y1="374.39" x2="500.90" y2="374.39" stroke="#777" stroke-width="0.7" />
<line x1="498.30" y1="371.98" x2="500.90" y2="371.98" stroke="#777" stroke-width="0.7" />
<line x1="498.30" y1="370.01" x2="500.90" y2="370.01" stroke="#777" stroke-width="0.7" />
<line x1="498.30" y1="368.35" x2="500.90" y2="368.35" stroke="#777" stroke-width="0.7" />
<line x1="498.30" y1="366.91" x2="500.90" y2="366.91" stroke="#777" stroke-width="0.7" />
<line x1="498.30" y1="365.64" x2="500.90" y2="365.64" stroke="#777" stroke-width="0.7" />
<line x1="498.30" y1="364.50" x2="502.80" y2="364.50" stroke="#777" stroke-width="0.7" />
<line x1="498.30" y1="357.02" x2="500.90" y2="357.02" stroke="#777" stroke-width="0.7" />
<line x1="498.30" y1="352.64" x2="500.90" y2="352.64" stroke="#777" stroke-width="0.7" />
<line x1="498.30" y1="349.54" x2="500.90" y2="349.54" stroke="#777" stroke-width="0.7" />
<line x1="498.30" y1="347.13" x2="500.90" y2="347.13" stroke="#777" stroke-width="0.7" />
<line x1="498.30" y1="345.16" x2="500.90" y2="345.16" stroke="#777" stroke-width="0.7" />
<line x1="498.30" y1="343.50" x2="500.90" y2="343.50" stroke="#777" stroke-width="0.7" />
<line x1="498.30" y1="342.06" x2="500.90" y2="342.06" stroke="#777" stroke-width="0.7" />
<line x1="498.30" y1="340.79" x2="500.90" y2="340.79" stroke="#777" stroke-width="0.7" />
<line x1="498.30" y1="456.40" x2="685.20" y2="456.40" stroke="#7a7a7a" stroke-width="1" />
<line x1="506.01" y1="456.40" x2="506.01" y2="453.80" stroke="#777" stroke-width="0.7" />
<line x1="519.08" y1="456.40" x2="519.08" y2="453.80" stroke="#777" stroke-width="0.7" />
<line x1="529.22" y1="456.40" x2="529.22" y2="453.80" stroke="#777" stroke-width="0.7" />
<line x1="537.50" y1="456.40" x2="537.50" y2="453.80" stroke="#777" stroke-width="0.7" />
<line x1="544.50" y1="456.40" x2="544.50" y2="453.80" stroke="#777" stroke-width="0.7" />
<line x1="550.57" y1="456.40" x2="550.57" y2="453.80" stroke="#777" stroke-width="0.7" />
<line x1="555.92" y1="456.40" x2="555.92" y2="453.80" stroke="#777" stroke-width="0.7" />
<line x1="560.70" y1="456.40" x2="560.70" y2="451.90" stroke="#777" stroke-width="0.7" />
<line x1="592.19" y1="456.40" x2="592.19" y2="453.80" stroke="#777" stroke-width="0.7" />
<line x1="610.61" y1="456.40" x2="610.61" y2="453.80" stroke="#777" stroke-width="0.7" />
<line x1="623.68" y1="456.40" x2="623.68" y2="453.80" stroke="#777" stroke-width="0.7" />
<line x1="633.82" y1="456.40" x2="633.82" y2="453.80" stroke="#777" stroke-width="0.7" />
<line x1="642.10" y1="456.40" x2="642.10" y2="453.80" stroke="#777" stroke-width="0.7" />
<line x1="649.10" y1="456.40" x2="649.10" y2="453.80" stroke="#777" stroke-width="0.7" />
<line x1="655.17" y1="456.40" x2="655.17" y2="453.80" stroke="#777" stroke-width="0.7" />
<line x1="660.52" y1="456.40" x2="660.52" y2="453.80" stroke="#777" stroke-width="0.7" />
<line x1="665.30" y1="456.40" x2="665.30" y2="451.90" stroke="#777" stroke-width="0.7" />
<text transform="translate(491.30,367.50) scale(0.95,1)" font-size="7.90" text-anchor="end" font-weight="normal" font-style="normal" fill="#333" >10</text>
<text transform="translate(491.70,363.30) scale(0.95,1)" font-size="5.20" text-anchor="start" font-weight="normal" font-style="normal" fill="#333" >1</text>
<text transform="translate(487.70,443.05) scale(0.95,1)" font-size="7.90" text-anchor="end" font-weight="normal" font-style="normal" fill="#333" >10</text>
<text transform="translate(487.90,438.65) scale(0.95,1)" font-size="5.20" text-anchor="start" font-weight="normal" font-style="normal" fill="#333" >−2</text>
<text transform="translate(553.30,468.40) scale(0.95,1)" font-size="7.90" text-anchor="start" font-weight="normal" font-style="normal" fill="#333" >10</text>
<text transform="translate(561.90,464.40) scale(0.95,1)" font-size="5.20" text-anchor="start" font-weight="normal" font-style="normal" fill="#333" >−1</text>
<text transform="translate(659.70,468.40) scale(0.95,1)" font-size="7.90" text-anchor="start" font-weight="normal" font-style="normal" fill="#333" >10</text>
<text transform="translate(668.10,464.40) scale(0.95,1)" font-size="5.20" text-anchor="start" font-weight="normal" font-style="normal" fill="#333" >0</text>
<text transform="translate(579.60,478.90) scale(0.95,1)" font-size="7.90" text-anchor="start" font-weight="normal" font-style="normal" fill="#333" >|<tspan font-style="italic">ρ</tspan> − <tspan font-style="italic">ρ</tspan><tspan font-size="5" dy="1.6">th</tspan><tspan dy="-1.6">|</tspan></text>
<text transform="translate(474.5,398.0) rotate(-90)" font-size="8.6" text-anchor="middle" fill="#333">|∫<tspan font-size="4.2" dy="2.2" font-style="italic">ρ</tspan><tspan font-size="4.2" dx="-2.2" dy="-6.6" font-style="italic">ρ</tspan><tspan font-size="3.2" dy="0.8">th</tspan><tspan dy="3.6"> Ω(</tspan><tspan font-style="italic">ρ</tspan>)d<tspan font-style="italic">ρ</tspan>|</text>
<g clip-path="url(#cl21)">
<line x1="498.30" y1="436.00" x2="685.00" y2="393.00" stroke="#7b7e82" stroke-width="4.3" stroke-opacity="1"/>
<line x1="498.30" y1="447.00" x2="685.00" y2="358.40" stroke="#9ccc6c" stroke-width="1.5" stroke-opacity="1"/>
</g>
<circle cx="519.08" cy="434.34" r="2.85" fill="#9cc86c" fill-opacity="0.55" stroke="#9cc86c" stroke-opacity="0.9" stroke-width="0.5"/>
<circle cx="541.14" cy="427.18" r="2.85" fill="#9cc86c" fill-opacity="0.55" stroke="#9cc86c" stroke-opacity="0.9" stroke-width="0.5"/>
<circle cx="555.92" cy="419.66" r="2.85" fill="#9cc86c" fill-opacity="0.55" stroke="#9cc86c" stroke-opacity="0.9" stroke-width="0.5"/>
<circle cx="567.05" cy="414.07" r="2.85" fill="#9cc86c" fill-opacity="0.55" stroke="#9cc86c" stroke-opacity="0.9" stroke-width="0.5"/>
<circle cx="575.99" cy="410.12" r="2.85" fill="#9cc86c" fill-opacity="0.55" stroke="#9cc86c" stroke-opacity="0.9" stroke-width="0.5"/>
<circle cx="583.45" cy="407.32" r="2.85" fill="#9cc86c" fill-opacity="0.55" stroke="#9cc86c" stroke-opacity="0.9" stroke-width="0.5"/>
<circle cx="589.86" cy="402.76" r="2.85" fill="#9cc86c" fill-opacity="0.55" stroke="#9cc86c" stroke-opacity="0.9" stroke-width="0.5"/>
<circle cx="595.48" cy="399.85" r="2.85" fill="#9cc86c" fill-opacity="0.55" stroke="#9cc86c" stroke-opacity="0.9" stroke-width="0.5"/>
<circle cx="600.47" cy="397.86" r="2.85" fill="#9cc86c" fill-opacity="0.55" stroke="#9cc86c" stroke-opacity="0.9" stroke-width="0.5"/>
<circle cx="604.98" cy="396.07" r="2.85" fill="#9cc86c" fill-opacity="0.55" stroke="#9cc86c" stroke-opacity="0.9" stroke-width="0.5"/>
<circle cx="609.07" cy="394.44" r="2.85" fill="#9cc86c" fill-opacity="0.55" stroke="#9cc86c" stroke-opacity="0.9" stroke-width="0.5"/>
<circle cx="612.83" cy="392.95" r="2.85" fill="#9cc86c" fill-opacity="0.55" stroke="#9cc86c" stroke-opacity="0.9" stroke-width="0.5"/>
<circle cx="616.30" cy="391.57" r="2.85" fill="#9cc86c" fill-opacity="0.55" stroke="#9cc86c" stroke-opacity="0.9" stroke-width="0.5"/>
<circle cx="619.52" cy="390.28" r="2.85" fill="#9cc86c" fill-opacity="0.55" stroke="#9cc86c" stroke-opacity="0.9" stroke-width="0.5"/>
<circle cx="622.53" cy="389.09" r="2.85" fill="#9cc86c" fill-opacity="0.55" stroke="#9cc86c" stroke-opacity="0.9" stroke-width="0.5"/>
<circle cx="625.35" cy="387.96" r="2.85" fill="#9cc86c" fill-opacity="0.55" stroke="#9cc86c" stroke-opacity="0.9" stroke-width="0.5"/>
<circle cx="628.01" cy="386.91" r="2.85" fill="#9cc86c" fill-opacity="0.55" stroke="#9cc86c" stroke-opacity="0.9" stroke-width="0.5"/>
<circle cx="630.52" cy="385.91" r="2.85" fill="#9cc86c" fill-opacity="0.55" stroke="#9cc86c" stroke-opacity="0.9" stroke-width="0.5"/>
<circle cx="632.90" cy="384.96" r="2.85" fill="#9cc86c" fill-opacity="0.55" stroke="#9cc86c" stroke-opacity="0.9" stroke-width="0.5"/>
<circle cx="635.16" cy="384.06" r="2.85" fill="#9cc86c" fill-opacity="0.55" stroke="#9cc86c" stroke-opacity="0.9" stroke-width="0.5"/>
<circle cx="637.31" cy="383.20" r="2.85" fill="#9cc86c" fill-opacity="0.55" stroke="#9cc86c" stroke-opacity="0.9" stroke-width="0.5"/>
<circle cx="639.37" cy="382.39" r="2.85" fill="#9cc86c" fill-opacity="0.55" stroke="#9cc86c" stroke-opacity="0.9" stroke-width="0.5"/>
<circle cx="641.34" cy="381.60" r="2.85" fill="#9cc86c" fill-opacity="0.55" stroke="#9cc86c" stroke-opacity="0.9" stroke-width="0.5"/>
<circle cx="643.22" cy="380.85" r="2.85" fill="#9cc86c" fill-opacity="0.55" stroke="#9cc86c" stroke-opacity="0.9" stroke-width="0.5"/>
<circle cx="645.03" cy="380.13" r="2.85" fill="#9cc86c" fill-opacity="0.55" stroke="#9cc86c" stroke-opacity="0.9" stroke-width="0.5"/>
<circle cx="646.77" cy="379.44" r="2.85" fill="#9cc86c" fill-opacity="0.55" stroke="#9cc86c" stroke-opacity="0.9" stroke-width="0.5"/>
<circle cx="648.45" cy="378.77" r="2.85" fill="#9cc86c" fill-opacity="0.55" stroke="#9cc86c" stroke-opacity="0.9" stroke-width="0.5"/>
<circle cx="650.06" cy="378.13" r="2.85" fill="#9cc86c" fill-opacity="0.55" stroke="#9cc86c" stroke-opacity="0.9" stroke-width="0.5"/>
<circle cx="651.63" cy="377.51" r="2.85" fill="#9cc86c" fill-opacity="0.55" stroke="#9cc86c" stroke-opacity="0.9" stroke-width="0.5"/>
<circle cx="653.14" cy="376.91" r="2.85" fill="#9cc86c" fill-opacity="0.55" stroke="#9cc86c" stroke-opacity="0.9" stroke-width="0.5"/>
<circle cx="506.01" cy="434.29" r="2.85" fill="#7b7d81" fill-opacity="0.7" stroke="#7b7d81" stroke-opacity="0.9" stroke-width="0.5"/>
<circle cx="533.55" cy="430.61" r="2.85" fill="#7b7d81" fill-opacity="0.7" stroke="#7b7d81" stroke-opacity="0.9" stroke-width="0.5"/>
<circle cx="550.57" cy="421.30" r="2.85" fill="#7b7d81" fill-opacity="0.7" stroke="#7b7d81" stroke-opacity="0.9" stroke-width="0.5"/>
<circle cx="562.92" cy="420.16" r="2.85" fill="#7b7d81" fill-opacity="0.7" stroke="#7b7d81" stroke-opacity="0.9" stroke-width="0.5"/>
<circle cx="572.62" cy="418.59" r="2.85" fill="#7b7d81" fill-opacity="0.7" stroke="#7b7d81" stroke-opacity="0.9" stroke-width="0.5"/>
<circle cx="580.61" cy="417.25" r="2.85" fill="#7b7d81" fill-opacity="0.7" stroke="#7b7d81" stroke-opacity="0.9" stroke-width="0.5"/>
<circle cx="587.41" cy="416.96" r="2.85" fill="#7b7d81" fill-opacity="0.7" stroke="#7b7d81" stroke-opacity="0.9" stroke-width="0.5"/>
<circle cx="593.31" cy="416.70" r="2.85" fill="#7b7d81" fill-opacity="0.7" stroke="#7b7d81" stroke-opacity="0.9" stroke-width="0.5"/>
<circle cx="598.54" cy="416.17" r="2.85" fill="#7b7d81" fill-opacity="0.7" stroke="#7b7d81" stroke-opacity="0.9" stroke-width="0.5"/>
<circle cx="603.23" cy="413.31" r="2.85" fill="#7b7d81" fill-opacity="0.7" stroke="#7b7d81" stroke-opacity="0.9" stroke-width="0.5"/>
<circle cx="509.20" cy="353.50" r="2.1" fill="#8a8c92" />
<circle cx="509.20" cy="368.80" r="2.1" fill="#a8d07f" />
<text transform="translate(515.60,355.70) scale(1.0,1)" font-size="8.32" text-anchor="start" font-weight="normal" font-style="normal" fill="#333" ><tspan font-style="italic">ρ</tspan> &lt; <tspan font-style="italic">ρ</tspan><tspan font-size="5.5" dy="1.8">th</tspan><tspan dy="-1.8"></tspan></text>
<text transform="translate(515.60,371.00) scale(1.0,1)" font-size="8.32" text-anchor="start" font-weight="normal" font-style="normal" fill="#333" ><tspan font-style="italic">ρ</tspan> &gt; <tspan font-style="italic">ρ</tspan><tspan font-size="5.5" dy="1.8">th</tspan><tspan dy="-1.8"></tspan></text>
<text transform="translate(584.30,365.00) scale(0.95,1)" font-size="7.90" text-anchor="start" font-weight="normal" font-style="normal" fill="#333" >~|<tspan font-style="italic">ρ</tspan> − <tspan font-style="italic">ρ</tspan><tspan font-size="5" dy="1.8">th</tspan><tspan dy="-1.8">|</tspan><tspan font-size="5" dy="-3.5">2</tspan></text>
<text transform="translate(643.30,428.00) scale(0.95,1)" font-size="7.90" text-anchor="start" font-weight="normal" font-style="normal" fill="#333" >~|<tspan font-style="italic">ρ</tspan> − <tspan font-style="italic">ρ</tspan><tspan font-size="5" dy="1.8">th</tspan><tspan dy="-1.8">|</tspan><tspan font-size="5" dy="-3.5">1</tspan></text>
</svg>
</body></html>
